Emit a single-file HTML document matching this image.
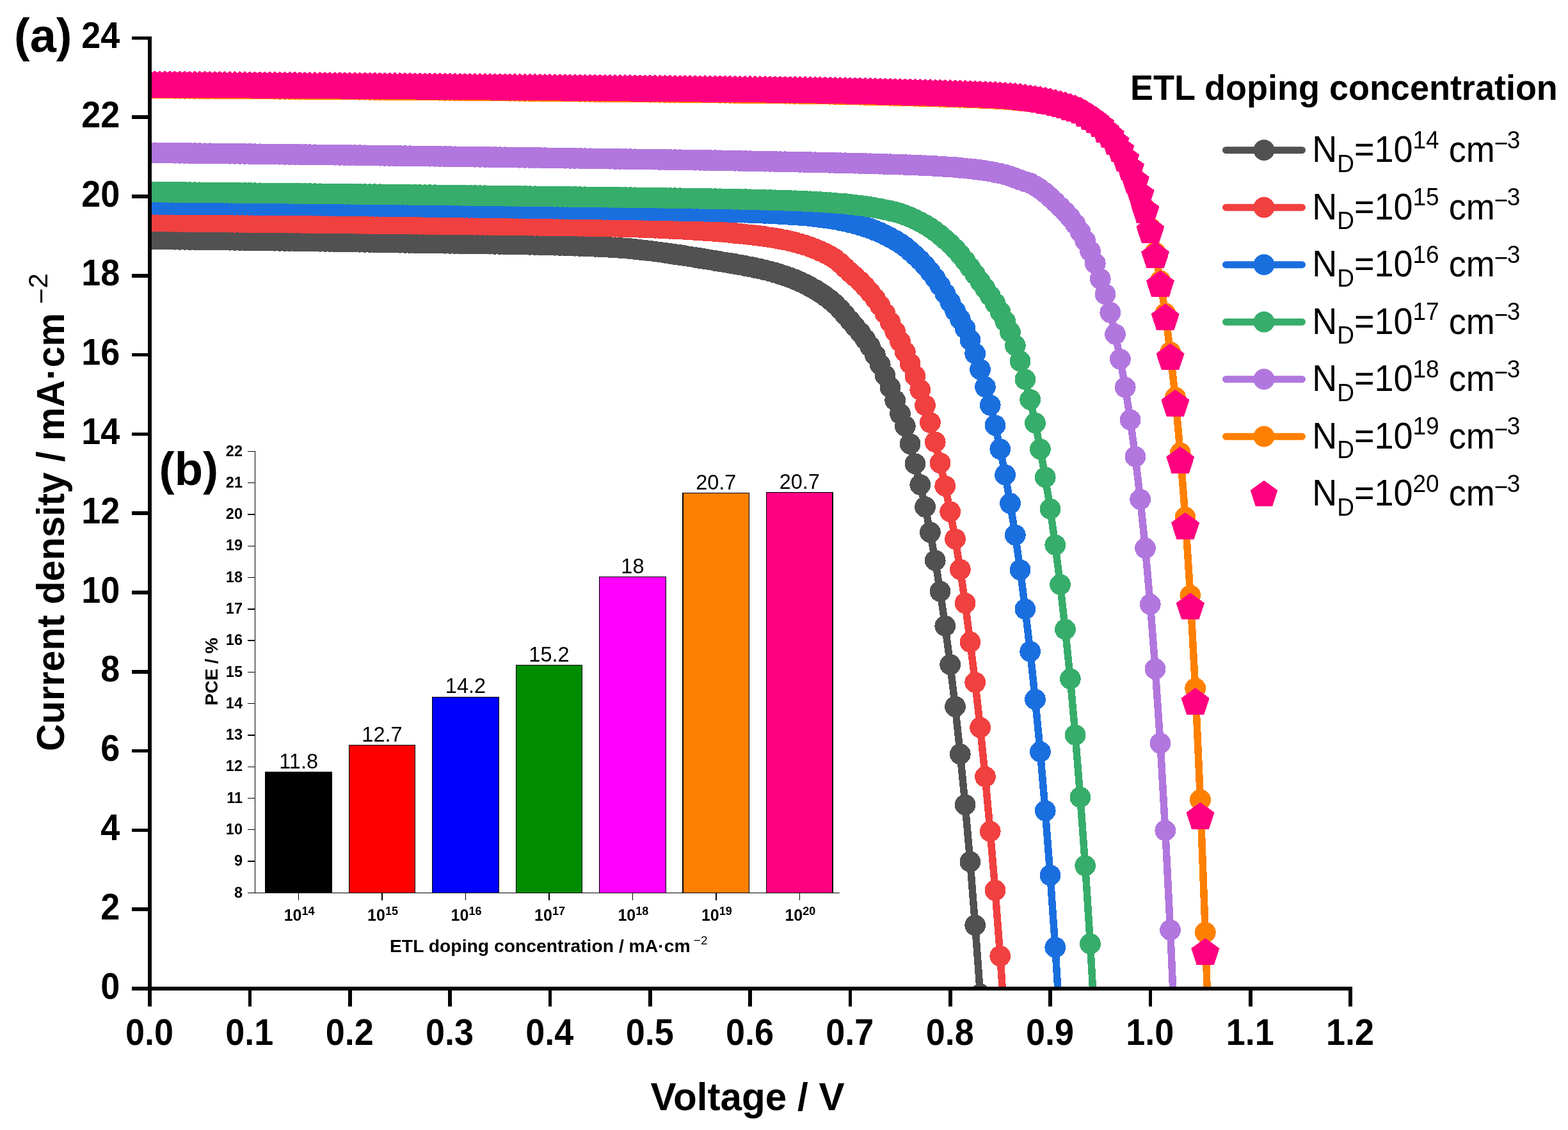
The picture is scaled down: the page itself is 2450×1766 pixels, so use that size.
<!DOCTYPE html>
<html><head><meta charset="utf-8"><title>J-V curves</title>
<style>html,body{margin:0;padding:0;background:#fff;}svg{display:block;}</style>
</head><body>
<svg width="2450" height="1766" viewBox="0 0 2450 1766">
<rect width="2450" height="1766" fill="#fff"/>
<defs><clipPath id="pc"><rect x="234.0" y="40" width="1875.996" height="1505.0"/></clipPath></defs>
<g clip-path="url(#pc)" shape-rendering="crispEdges">
<polyline points="234.0,373.4 241.8,373.7 249.6,373.9 257.4,374.0 265.3,374.1 273.1,374.2 280.9,374.3 288.7,374.3 296.5,374.4 304.3,374.5 312.2,374.6 320.0,374.7 327.8,374.8 335.6,374.9 343.4,375.0 351.2,375.1 359.1,375.2 366.9,375.3 374.7,375.4 382.5,375.5 390.3,375.6 398.1,375.7 406.0,375.8 413.8,375.9 421.6,376.1 429.4,376.2 437.2,376.3 445.0,376.4 452.9,376.5 460.7,376.6 468.5,376.7 476.3,376.8 484.1,377.0 491.9,377.1 499.8,377.2 507.6,377.3 515.4,377.4 523.2,377.6 531.0,377.7 538.8,377.8 546.7,377.9 554.5,378.0 562.3,378.2 570.1,378.3 577.9,378.4 585.7,378.6 593.6,378.7 601.4,378.8 609.2,379.0 617.0,379.1 624.8,379.2 632.6,379.3 640.5,379.4 648.3,379.5 656.1,379.7 663.9,379.8 671.7,379.9 679.5,380.0 687.4,380.1 695.2,380.2 703.0,380.3 710.8,380.4 718.6,380.5 726.4,380.6 734.3,380.7 742.1,380.8 749.9,380.9 757.7,381.0 765.5,381.1 773.3,381.3 781.2,381.4 789.0,381.5 796.8,381.7 804.6,381.8 812.4,382.0 820.2,382.1 828.1,382.3 835.9,382.4 843.7,382.6 851.5,382.8 859.3,383.0 867.1,383.2 875.0,383.4 882.8,383.7 890.6,383.9 898.4,384.2 906.2,384.4 914.0,384.7 921.9,385.0 929.7,385.3 937.5,385.7 945.3,386.0 953.1,386.4 960.9,386.8 968.8,387.4 976.6,388.0 984.4,388.7 992.2,389.5 1000.0,390.3 1007.8,391.2 1015.7,392.1 1023.5,393.1 1031.3,394.1 1039.1,395.2 1046.9,396.3 1054.7,397.5 1062.6,398.6 1070.4,399.8 1078.2,401.1 1086.0,402.3 1093.8,403.5 1101.6,404.8 1109.5,406.1 1117.3,407.4 1125.1,408.7 1132.9,410.0 1140.7,411.3 1148.5,412.6 1156.4,414.0 1164.2,415.4 1172.0,416.9 1179.8,418.5 1187.6,420.2 1195.4,422.1 1203.3,424.1 1211.1,426.2 1218.9,428.6 1226.7,431.2 1234.5,433.9 1242.3,437.0 1250.2,440.4 1258.0,444.0 1265.8,448.1 1273.6,452.5 1281.4,457.4 1289.2,462.7 1297.1,468.6 1304.9,475.3 1312.7,483.3 1320.5,492.2 1328.3,501.2 1336.1,510.3 1344.0,519.7 1351.8,529.9 1359.6,541.5 1367.4,554.8 1375.2,569.9 1383.0,586.8 1390.9,605.4 1398.7,625.7 1406.5,646.6 1414.3,666.0 1422.1,693.9 1429.9,724.8 1437.8,757.6 1445.6,792.3 1453.4,831.9 1461.2,875.9 1469.0,924.1 1476.8,978.3 1484.7,1038.7 1492.5,1104.3 1500.3,1178.6 1508.1,1257.8 1515.9,1346.9 1523.7,1446.0 1531.6,1553.8 1539.4,1672.9 1547.2,1804.4" fill="none" stroke="#515151" stroke-width="11.5" stroke-linejoin="round"/>
<g fill="#515151"><circle cx="234.0" cy="373.4" r="16.4"/><circle cx="241.8" cy="373.7" r="16.4"/><circle cx="249.6" cy="373.9" r="16.4"/><circle cx="257.4" cy="374.0" r="16.4"/><circle cx="265.3" cy="374.1" r="16.4"/><circle cx="273.1" cy="374.2" r="16.4"/><circle cx="280.9" cy="374.3" r="16.4"/><circle cx="288.7" cy="374.3" r="16.4"/><circle cx="296.5" cy="374.4" r="16.4"/><circle cx="304.3" cy="374.5" r="16.4"/><circle cx="312.2" cy="374.6" r="16.4"/><circle cx="320.0" cy="374.7" r="16.4"/><circle cx="327.8" cy="374.8" r="16.4"/><circle cx="335.6" cy="374.9" r="16.4"/><circle cx="343.4" cy="375.0" r="16.4"/><circle cx="351.2" cy="375.1" r="16.4"/><circle cx="359.1" cy="375.2" r="16.4"/><circle cx="366.9" cy="375.3" r="16.4"/><circle cx="374.7" cy="375.4" r="16.4"/><circle cx="382.5" cy="375.5" r="16.4"/><circle cx="390.3" cy="375.6" r="16.4"/><circle cx="398.1" cy="375.7" r="16.4"/><circle cx="406.0" cy="375.8" r="16.4"/><circle cx="413.8" cy="375.9" r="16.4"/><circle cx="421.6" cy="376.1" r="16.4"/><circle cx="429.4" cy="376.2" r="16.4"/><circle cx="437.2" cy="376.3" r="16.4"/><circle cx="445.0" cy="376.4" r="16.4"/><circle cx="452.9" cy="376.5" r="16.4"/><circle cx="460.7" cy="376.6" r="16.4"/><circle cx="468.5" cy="376.7" r="16.4"/><circle cx="476.3" cy="376.8" r="16.4"/><circle cx="484.1" cy="377.0" r="16.4"/><circle cx="491.9" cy="377.1" r="16.4"/><circle cx="499.8" cy="377.2" r="16.4"/><circle cx="507.6" cy="377.3" r="16.4"/><circle cx="515.4" cy="377.4" r="16.4"/><circle cx="523.2" cy="377.6" r="16.4"/><circle cx="531.0" cy="377.7" r="16.4"/><circle cx="538.8" cy="377.8" r="16.4"/><circle cx="546.7" cy="377.9" r="16.4"/><circle cx="554.5" cy="378.0" r="16.4"/><circle cx="562.3" cy="378.2" r="16.4"/><circle cx="570.1" cy="378.3" r="16.4"/><circle cx="577.9" cy="378.4" r="16.4"/><circle cx="585.7" cy="378.6" r="16.4"/><circle cx="593.6" cy="378.7" r="16.4"/><circle cx="601.4" cy="378.8" r="16.4"/><circle cx="609.2" cy="379.0" r="16.4"/><circle cx="617.0" cy="379.1" r="16.4"/><circle cx="624.8" cy="379.2" r="16.4"/><circle cx="632.6" cy="379.3" r="16.4"/><circle cx="640.5" cy="379.4" r="16.4"/><circle cx="648.3" cy="379.5" r="16.4"/><circle cx="656.1" cy="379.7" r="16.4"/><circle cx="663.9" cy="379.8" r="16.4"/><circle cx="671.7" cy="379.9" r="16.4"/><circle cx="679.5" cy="380.0" r="16.4"/><circle cx="687.4" cy="380.1" r="16.4"/><circle cx="695.2" cy="380.2" r="16.4"/><circle cx="703.0" cy="380.3" r="16.4"/><circle cx="710.8" cy="380.4" r="16.4"/><circle cx="718.6" cy="380.5" r="16.4"/><circle cx="726.4" cy="380.6" r="16.4"/><circle cx="734.3" cy="380.7" r="16.4"/><circle cx="742.1" cy="380.8" r="16.4"/><circle cx="749.9" cy="380.9" r="16.4"/><circle cx="757.7" cy="381.0" r="16.4"/><circle cx="765.5" cy="381.1" r="16.4"/><circle cx="773.3" cy="381.3" r="16.4"/><circle cx="781.2" cy="381.4" r="16.4"/><circle cx="789.0" cy="381.5" r="16.4"/><circle cx="796.8" cy="381.7" r="16.4"/><circle cx="804.6" cy="381.8" r="16.4"/><circle cx="812.4" cy="382.0" r="16.4"/><circle cx="820.2" cy="382.1" r="16.4"/><circle cx="828.1" cy="382.3" r="16.4"/><circle cx="835.9" cy="382.4" r="16.4"/><circle cx="843.7" cy="382.6" r="16.4"/><circle cx="851.5" cy="382.8" r="16.4"/><circle cx="859.3" cy="383.0" r="16.4"/><circle cx="867.1" cy="383.2" r="16.4"/><circle cx="875.0" cy="383.4" r="16.4"/><circle cx="882.8" cy="383.7" r="16.4"/><circle cx="890.6" cy="383.9" r="16.4"/><circle cx="898.4" cy="384.2" r="16.4"/><circle cx="906.2" cy="384.4" r="16.4"/><circle cx="914.0" cy="384.7" r="16.4"/><circle cx="921.9" cy="385.0" r="16.4"/><circle cx="929.7" cy="385.3" r="16.4"/><circle cx="937.5" cy="385.7" r="16.4"/><circle cx="945.3" cy="386.0" r="16.4"/><circle cx="953.1" cy="386.4" r="16.4"/><circle cx="960.9" cy="386.8" r="16.4"/><circle cx="968.8" cy="387.4" r="16.4"/><circle cx="976.6" cy="388.0" r="16.4"/><circle cx="984.4" cy="388.7" r="16.4"/><circle cx="992.2" cy="389.5" r="16.4"/><circle cx="1000.0" cy="390.3" r="16.4"/><circle cx="1007.8" cy="391.2" r="16.4"/><circle cx="1015.7" cy="392.1" r="16.4"/><circle cx="1023.5" cy="393.1" r="16.4"/><circle cx="1031.3" cy="394.1" r="16.4"/><circle cx="1039.1" cy="395.2" r="16.4"/><circle cx="1046.9" cy="396.3" r="16.4"/><circle cx="1054.7" cy="397.5" r="16.4"/><circle cx="1062.6" cy="398.6" r="16.4"/><circle cx="1070.4" cy="399.8" r="16.4"/><circle cx="1078.2" cy="401.1" r="16.4"/><circle cx="1086.0" cy="402.3" r="16.4"/><circle cx="1093.8" cy="403.5" r="16.4"/><circle cx="1101.6" cy="404.8" r="16.4"/><circle cx="1109.5" cy="406.1" r="16.4"/><circle cx="1117.3" cy="407.4" r="16.4"/><circle cx="1125.1" cy="408.7" r="16.4"/><circle cx="1132.9" cy="410.0" r="16.4"/><circle cx="1140.7" cy="411.3" r="16.4"/><circle cx="1148.5" cy="412.6" r="16.4"/><circle cx="1156.4" cy="414.0" r="16.4"/><circle cx="1164.2" cy="415.4" r="16.4"/><circle cx="1172.0" cy="416.9" r="16.4"/><circle cx="1179.8" cy="418.5" r="16.4"/><circle cx="1187.6" cy="420.2" r="16.4"/><circle cx="1195.4" cy="422.1" r="16.4"/><circle cx="1203.3" cy="424.1" r="16.4"/><circle cx="1211.1" cy="426.2" r="16.4"/><circle cx="1218.9" cy="428.6" r="16.4"/><circle cx="1226.7" cy="431.2" r="16.4"/><circle cx="1234.5" cy="433.9" r="16.4"/><circle cx="1242.3" cy="437.0" r="16.4"/><circle cx="1250.2" cy="440.4" r="16.4"/><circle cx="1258.0" cy="444.0" r="16.4"/><circle cx="1265.8" cy="448.1" r="16.4"/><circle cx="1273.6" cy="452.5" r="16.4"/><circle cx="1281.4" cy="457.4" r="16.4"/><circle cx="1289.2" cy="462.7" r="16.4"/><circle cx="1297.1" cy="468.6" r="16.4"/><circle cx="1304.9" cy="475.3" r="16.4"/><circle cx="1312.7" cy="483.3" r="16.4"/><circle cx="1320.5" cy="492.2" r="16.4"/><circle cx="1328.3" cy="501.2" r="16.4"/><circle cx="1336.1" cy="510.3" r="16.4"/><circle cx="1344.0" cy="519.7" r="16.4"/><circle cx="1351.8" cy="529.9" r="16.4"/><circle cx="1359.6" cy="541.5" r="16.4"/><circle cx="1367.4" cy="554.8" r="16.4"/><circle cx="1375.2" cy="569.9" r="16.4"/><circle cx="1383.0" cy="586.8" r="16.4"/><circle cx="1390.9" cy="605.4" r="16.4"/><circle cx="1398.7" cy="625.7" r="16.4"/><circle cx="1406.5" cy="646.6" r="16.4"/><circle cx="1414.3" cy="666.0" r="16.4"/><circle cx="1422.1" cy="693.9" r="16.4"/><circle cx="1429.9" cy="724.8" r="16.4"/><circle cx="1437.8" cy="757.6" r="16.4"/><circle cx="1445.6" cy="792.3" r="16.4"/><circle cx="1453.4" cy="831.9" r="16.4"/><circle cx="1461.2" cy="875.9" r="16.4"/><circle cx="1469.0" cy="924.1" r="16.4"/><circle cx="1476.8" cy="978.3" r="16.4"/><circle cx="1484.7" cy="1038.7" r="16.4"/><circle cx="1492.5" cy="1104.3" r="16.4"/><circle cx="1500.3" cy="1178.6" r="16.4"/><circle cx="1508.1" cy="1257.8" r="16.4"/><circle cx="1515.9" cy="1346.9" r="16.4"/><circle cx="1523.7" cy="1446.0" r="16.4"/><circle cx="1531.6" cy="1553.8" r="16.4"/><circle cx="1539.4" cy="1672.9" r="16.4"/><circle cx="1547.2" cy="1804.4" r="16.4"/></g>
<polyline points="234.0,345.9 241.8,345.9 249.6,346.0 257.4,346.1 265.3,346.2 273.1,346.3 280.9,346.4 288.7,346.4 296.5,346.5 304.3,346.6 312.2,346.7 320.0,346.8 327.8,346.9 335.6,346.9 343.4,347.0 351.2,347.1 359.1,347.2 366.9,347.3 374.7,347.3 382.5,347.4 390.3,347.5 398.1,347.6 406.0,347.7 413.8,347.8 421.6,347.8 429.4,347.9 437.2,348.0 445.0,348.1 452.9,348.2 460.7,348.2 468.5,348.3 476.3,348.4 484.1,348.5 491.9,348.6 499.8,348.7 507.6,348.7 515.4,348.8 523.2,348.9 531.0,349.0 538.8,349.1 546.7,349.1 554.5,349.2 562.3,349.3 570.1,349.4 577.9,349.5 585.7,349.6 593.6,349.6 601.4,349.7 609.2,349.8 617.0,349.9 624.8,350.0 632.6,350.1 640.5,350.1 648.3,350.2 656.1,350.3 663.9,350.4 671.7,350.5 679.5,350.5 687.4,350.6 695.2,350.7 703.0,350.8 710.8,350.9 718.6,350.9 726.4,351.0 734.3,351.1 742.1,351.2 749.9,351.3 757.7,351.4 765.5,351.4 773.3,351.5 781.2,351.6 789.0,351.7 796.8,351.8 804.6,351.9 812.4,352.0 820.2,352.1 828.1,352.2 835.9,352.3 843.7,352.4 851.5,352.5 859.3,352.6 867.1,352.7 875.0,352.8 882.8,352.9 890.6,353.0 898.4,353.1 906.2,353.3 914.0,353.4 921.9,353.5 929.7,353.7 937.5,353.8 945.3,353.9 953.1,354.1 960.9,354.3 968.8,354.5 976.6,354.7 984.4,354.9 992.2,355.1 1000.0,355.4 1007.8,355.7 1015.7,356.0 1023.5,356.3 1031.3,356.6 1039.1,356.9 1046.9,357.3 1054.7,357.7 1062.6,358.1 1070.4,358.5 1078.2,358.9 1086.0,359.4 1093.8,359.9 1101.6,360.4 1109.5,361.0 1117.3,361.6 1125.1,362.2 1132.9,362.9 1140.7,363.6 1148.5,364.4 1156.4,365.2 1164.2,366.1 1172.0,366.9 1179.8,367.8 1187.6,368.8 1195.4,369.8 1203.3,371.0 1211.1,372.2 1218.9,373.6 1226.7,375.1 1234.5,376.8 1242.3,378.7 1250.2,380.9 1258.0,383.2 1265.8,385.9 1273.6,388.9 1281.4,392.2 1289.2,395.9 1297.1,400.0 1304.9,404.9 1312.7,411.3 1320.5,418.5 1328.3,425.6 1336.1,432.4 1344.0,439.8 1351.8,447.8 1359.6,456.7 1367.4,466.5 1375.2,477.5 1383.0,489.9 1390.9,503.5 1398.7,518.1 1406.5,533.7 1414.3,550.2 1422.1,568.1 1429.9,587.7 1437.8,609.3 1445.6,633.5 1453.4,660.4 1461.2,690.8 1469.0,723.6 1476.8,759.5 1484.7,799.7 1492.5,842.4 1500.3,890.1 1508.1,942.7 1515.9,1003.4 1523.7,1066.5 1531.6,1137.1 1539.4,1213.8 1547.2,1299.3 1555.0,1391.5 1562.8,1494.2 1570.6,1606.9 1578.5,1730.8" fill="none" stroke="#F14040" stroke-width="11.5" stroke-linejoin="round"/>
<g fill="#F14040"><circle cx="234.0" cy="345.9" r="16.4"/><circle cx="241.8" cy="345.9" r="16.4"/><circle cx="249.6" cy="346.0" r="16.4"/><circle cx="257.4" cy="346.1" r="16.4"/><circle cx="265.3" cy="346.2" r="16.4"/><circle cx="273.1" cy="346.3" r="16.4"/><circle cx="280.9" cy="346.4" r="16.4"/><circle cx="288.7" cy="346.4" r="16.4"/><circle cx="296.5" cy="346.5" r="16.4"/><circle cx="304.3" cy="346.6" r="16.4"/><circle cx="312.2" cy="346.7" r="16.4"/><circle cx="320.0" cy="346.8" r="16.4"/><circle cx="327.8" cy="346.9" r="16.4"/><circle cx="335.6" cy="346.9" r="16.4"/><circle cx="343.4" cy="347.0" r="16.4"/><circle cx="351.2" cy="347.1" r="16.4"/><circle cx="359.1" cy="347.2" r="16.4"/><circle cx="366.9" cy="347.3" r="16.4"/><circle cx="374.7" cy="347.3" r="16.4"/><circle cx="382.5" cy="347.4" r="16.4"/><circle cx="390.3" cy="347.5" r="16.4"/><circle cx="398.1" cy="347.6" r="16.4"/><circle cx="406.0" cy="347.7" r="16.4"/><circle cx="413.8" cy="347.8" r="16.4"/><circle cx="421.6" cy="347.8" r="16.4"/><circle cx="429.4" cy="347.9" r="16.4"/><circle cx="437.2" cy="348.0" r="16.4"/><circle cx="445.0" cy="348.1" r="16.4"/><circle cx="452.9" cy="348.2" r="16.4"/><circle cx="460.7" cy="348.2" r="16.4"/><circle cx="468.5" cy="348.3" r="16.4"/><circle cx="476.3" cy="348.4" r="16.4"/><circle cx="484.1" cy="348.5" r="16.4"/><circle cx="491.9" cy="348.6" r="16.4"/><circle cx="499.8" cy="348.7" r="16.4"/><circle cx="507.6" cy="348.7" r="16.4"/><circle cx="515.4" cy="348.8" r="16.4"/><circle cx="523.2" cy="348.9" r="16.4"/><circle cx="531.0" cy="349.0" r="16.4"/><circle cx="538.8" cy="349.1" r="16.4"/><circle cx="546.7" cy="349.1" r="16.4"/><circle cx="554.5" cy="349.2" r="16.4"/><circle cx="562.3" cy="349.3" r="16.4"/><circle cx="570.1" cy="349.4" r="16.4"/><circle cx="577.9" cy="349.5" r="16.4"/><circle cx="585.7" cy="349.6" r="16.4"/><circle cx="593.6" cy="349.6" r="16.4"/><circle cx="601.4" cy="349.7" r="16.4"/><circle cx="609.2" cy="349.8" r="16.4"/><circle cx="617.0" cy="349.9" r="16.4"/><circle cx="624.8" cy="350.0" r="16.4"/><circle cx="632.6" cy="350.1" r="16.4"/><circle cx="640.5" cy="350.1" r="16.4"/><circle cx="648.3" cy="350.2" r="16.4"/><circle cx="656.1" cy="350.3" r="16.4"/><circle cx="663.9" cy="350.4" r="16.4"/><circle cx="671.7" cy="350.5" r="16.4"/><circle cx="679.5" cy="350.5" r="16.4"/><circle cx="687.4" cy="350.6" r="16.4"/><circle cx="695.2" cy="350.7" r="16.4"/><circle cx="703.0" cy="350.8" r="16.4"/><circle cx="710.8" cy="350.9" r="16.4"/><circle cx="718.6" cy="350.9" r="16.4"/><circle cx="726.4" cy="351.0" r="16.4"/><circle cx="734.3" cy="351.1" r="16.4"/><circle cx="742.1" cy="351.2" r="16.4"/><circle cx="749.9" cy="351.3" r="16.4"/><circle cx="757.7" cy="351.4" r="16.4"/><circle cx="765.5" cy="351.4" r="16.4"/><circle cx="773.3" cy="351.5" r="16.4"/><circle cx="781.2" cy="351.6" r="16.4"/><circle cx="789.0" cy="351.7" r="16.4"/><circle cx="796.8" cy="351.8" r="16.4"/><circle cx="804.6" cy="351.9" r="16.4"/><circle cx="812.4" cy="352.0" r="16.4"/><circle cx="820.2" cy="352.1" r="16.4"/><circle cx="828.1" cy="352.2" r="16.4"/><circle cx="835.9" cy="352.3" r="16.4"/><circle cx="843.7" cy="352.4" r="16.4"/><circle cx="851.5" cy="352.5" r="16.4"/><circle cx="859.3" cy="352.6" r="16.4"/><circle cx="867.1" cy="352.7" r="16.4"/><circle cx="875.0" cy="352.8" r="16.4"/><circle cx="882.8" cy="352.9" r="16.4"/><circle cx="890.6" cy="353.0" r="16.4"/><circle cx="898.4" cy="353.1" r="16.4"/><circle cx="906.2" cy="353.3" r="16.4"/><circle cx="914.0" cy="353.4" r="16.4"/><circle cx="921.9" cy="353.5" r="16.4"/><circle cx="929.7" cy="353.7" r="16.4"/><circle cx="937.5" cy="353.8" r="16.4"/><circle cx="945.3" cy="353.9" r="16.4"/><circle cx="953.1" cy="354.1" r="16.4"/><circle cx="960.9" cy="354.3" r="16.4"/><circle cx="968.8" cy="354.5" r="16.4"/><circle cx="976.6" cy="354.7" r="16.4"/><circle cx="984.4" cy="354.9" r="16.4"/><circle cx="992.2" cy="355.1" r="16.4"/><circle cx="1000.0" cy="355.4" r="16.4"/><circle cx="1007.8" cy="355.7" r="16.4"/><circle cx="1015.7" cy="356.0" r="16.4"/><circle cx="1023.5" cy="356.3" r="16.4"/><circle cx="1031.3" cy="356.6" r="16.4"/><circle cx="1039.1" cy="356.9" r="16.4"/><circle cx="1046.9" cy="357.3" r="16.4"/><circle cx="1054.7" cy="357.7" r="16.4"/><circle cx="1062.6" cy="358.1" r="16.4"/><circle cx="1070.4" cy="358.5" r="16.4"/><circle cx="1078.2" cy="358.9" r="16.4"/><circle cx="1086.0" cy="359.4" r="16.4"/><circle cx="1093.8" cy="359.9" r="16.4"/><circle cx="1101.6" cy="360.4" r="16.4"/><circle cx="1109.5" cy="361.0" r="16.4"/><circle cx="1117.3" cy="361.6" r="16.4"/><circle cx="1125.1" cy="362.2" r="16.4"/><circle cx="1132.9" cy="362.9" r="16.4"/><circle cx="1140.7" cy="363.6" r="16.4"/><circle cx="1148.5" cy="364.4" r="16.4"/><circle cx="1156.4" cy="365.2" r="16.4"/><circle cx="1164.2" cy="366.1" r="16.4"/><circle cx="1172.0" cy="366.9" r="16.4"/><circle cx="1179.8" cy="367.8" r="16.4"/><circle cx="1187.6" cy="368.8" r="16.4"/><circle cx="1195.4" cy="369.8" r="16.4"/><circle cx="1203.3" cy="371.0" r="16.4"/><circle cx="1211.1" cy="372.2" r="16.4"/><circle cx="1218.9" cy="373.6" r="16.4"/><circle cx="1226.7" cy="375.1" r="16.4"/><circle cx="1234.5" cy="376.8" r="16.4"/><circle cx="1242.3" cy="378.7" r="16.4"/><circle cx="1250.2" cy="380.9" r="16.4"/><circle cx="1258.0" cy="383.2" r="16.4"/><circle cx="1265.8" cy="385.9" r="16.4"/><circle cx="1273.6" cy="388.9" r="16.4"/><circle cx="1281.4" cy="392.2" r="16.4"/><circle cx="1289.2" cy="395.9" r="16.4"/><circle cx="1297.1" cy="400.0" r="16.4"/><circle cx="1304.9" cy="404.9" r="16.4"/><circle cx="1312.7" cy="411.3" r="16.4"/><circle cx="1320.5" cy="418.5" r="16.4"/><circle cx="1328.3" cy="425.6" r="16.4"/><circle cx="1336.1" cy="432.4" r="16.4"/><circle cx="1344.0" cy="439.8" r="16.4"/><circle cx="1351.8" cy="447.8" r="16.4"/><circle cx="1359.6" cy="456.7" r="16.4"/><circle cx="1367.4" cy="466.5" r="16.4"/><circle cx="1375.2" cy="477.5" r="16.4"/><circle cx="1383.0" cy="489.9" r="16.4"/><circle cx="1390.9" cy="503.5" r="16.4"/><circle cx="1398.7" cy="518.1" r="16.4"/><circle cx="1406.5" cy="533.7" r="16.4"/><circle cx="1414.3" cy="550.2" r="16.4"/><circle cx="1422.1" cy="568.1" r="16.4"/><circle cx="1429.9" cy="587.7" r="16.4"/><circle cx="1437.8" cy="609.3" r="16.4"/><circle cx="1445.6" cy="633.5" r="16.4"/><circle cx="1453.4" cy="660.4" r="16.4"/><circle cx="1461.2" cy="690.8" r="16.4"/><circle cx="1469.0" cy="723.6" r="16.4"/><circle cx="1476.8" cy="759.5" r="16.4"/><circle cx="1484.7" cy="799.7" r="16.4"/><circle cx="1492.5" cy="842.4" r="16.4"/><circle cx="1500.3" cy="890.1" r="16.4"/><circle cx="1508.1" cy="942.7" r="16.4"/><circle cx="1515.9" cy="1003.4" r="16.4"/><circle cx="1523.7" cy="1066.5" r="16.4"/><circle cx="1531.6" cy="1137.1" r="16.4"/><circle cx="1539.4" cy="1213.8" r="16.4"/><circle cx="1547.2" cy="1299.3" r="16.4"/><circle cx="1555.0" cy="1391.5" r="16.4"/><circle cx="1562.8" cy="1494.2" r="16.4"/><circle cx="1570.6" cy="1606.9" r="16.4"/><circle cx="1578.5" cy="1730.8" r="16.4"/></g>
<polyline points="234.0,319.2 241.8,319.3 249.6,319.4 257.4,319.5 265.3,319.5 273.1,319.5 280.9,319.6 288.7,319.6 296.5,319.7 304.3,319.7 312.2,319.8 320.0,319.8 327.8,319.9 335.6,320.0 343.4,320.0 351.2,320.1 359.1,320.1 366.9,320.2 374.7,320.2 382.5,320.3 390.3,320.3 398.1,320.4 406.0,320.5 413.8,320.5 421.6,320.6 429.4,320.6 437.2,320.7 445.0,320.8 452.9,320.8 460.7,320.9 468.5,321.0 476.3,321.1 484.1,321.1 491.9,321.2 499.8,321.3 507.6,321.4 515.4,321.5 523.2,321.5 531.0,321.6 538.8,321.7 546.7,321.8 554.5,321.9 562.3,322.0 570.1,322.1 577.9,322.2 585.7,322.3 593.6,322.4 601.4,322.5 609.2,322.6 617.0,322.7 624.8,322.8 632.6,322.9 640.5,323.0 648.3,323.1 656.1,323.2 663.9,323.4 671.7,323.5 679.5,323.6 687.4,323.7 695.2,323.8 703.0,323.9 710.8,324.0 718.6,324.1 726.4,324.2 734.3,324.3 742.1,324.4 749.9,324.5 757.7,324.7 765.5,324.8 773.3,324.9 781.2,325.0 789.0,325.1 796.8,325.2 804.6,325.3 812.4,325.4 820.2,325.5 828.1,325.6 835.9,325.8 843.7,325.9 851.5,326.0 859.3,326.1 867.1,326.2 875.0,326.3 882.8,326.4 890.6,326.5 898.4,326.7 906.2,326.8 914.0,326.9 921.9,327.0 929.7,327.1 937.5,327.2 945.3,327.4 953.1,327.5 960.9,327.6 968.8,327.7 976.6,327.8 984.4,328.0 992.2,328.1 1000.0,328.2 1007.8,328.4 1015.7,328.5 1023.5,328.7 1031.3,328.8 1039.1,329.0 1046.9,329.1 1054.7,329.3 1062.6,329.4 1070.4,329.6 1078.2,329.8 1086.0,330.0 1093.8,330.1 1101.6,330.3 1109.5,330.5 1117.3,330.8 1125.1,331.0 1132.9,331.2 1140.7,331.5 1148.5,331.7 1156.4,332.0 1164.2,332.2 1172.0,332.5 1179.8,332.8 1187.6,333.1 1195.4,333.4 1203.3,333.7 1211.1,334.1 1218.9,334.5 1226.7,334.9 1234.5,335.4 1242.3,335.9 1250.2,336.5 1258.0,337.1 1265.8,337.9 1273.6,338.7 1281.4,339.6 1289.2,340.7 1297.1,341.8 1304.9,343.1 1312.7,344.5 1320.5,346.2 1328.3,347.9 1336.1,349.9 1344.0,352.1 1351.8,354.5 1359.6,357.2 1367.4,360.2 1375.2,363.5 1383.0,367.1 1390.9,371.1 1398.7,375.5 1406.5,380.4 1414.3,386.0 1422.1,392.3 1429.9,399.2 1437.8,406.8 1445.6,415.2 1453.4,424.5 1461.2,434.9 1469.0,446.3 1476.8,458.7 1484.7,472.0 1492.5,485.7 1500.3,498.8 1508.1,513.2 1515.9,531.1 1523.7,552.7 1531.6,577.5 1539.4,604.7 1547.2,633.2 1555.0,664.8 1562.8,701.9 1570.6,742.2 1578.5,786.7 1586.3,836.2 1594.1,890.7 1601.9,952.0 1609.7,1018.2 1617.5,1093.1 1625.4,1174.8 1633.2,1267.1 1641.0,1368.0 1648.8,1480.6 1656.6,1605.4 1664.4,1743.7" fill="none" stroke="#1A6FDF" stroke-width="11.5" stroke-linejoin="round"/>
<g fill="#1A6FDF"><circle cx="234.0" cy="319.2" r="16.4"/><circle cx="241.8" cy="319.3" r="16.4"/><circle cx="249.6" cy="319.4" r="16.4"/><circle cx="257.4" cy="319.5" r="16.4"/><circle cx="265.3" cy="319.5" r="16.4"/><circle cx="273.1" cy="319.5" r="16.4"/><circle cx="280.9" cy="319.6" r="16.4"/><circle cx="288.7" cy="319.6" r="16.4"/><circle cx="296.5" cy="319.7" r="16.4"/><circle cx="304.3" cy="319.7" r="16.4"/><circle cx="312.2" cy="319.8" r="16.4"/><circle cx="320.0" cy="319.8" r="16.4"/><circle cx="327.8" cy="319.9" r="16.4"/><circle cx="335.6" cy="320.0" r="16.4"/><circle cx="343.4" cy="320.0" r="16.4"/><circle cx="351.2" cy="320.1" r="16.4"/><circle cx="359.1" cy="320.1" r="16.4"/><circle cx="366.9" cy="320.2" r="16.4"/><circle cx="374.7" cy="320.2" r="16.4"/><circle cx="382.5" cy="320.3" r="16.4"/><circle cx="390.3" cy="320.3" r="16.4"/><circle cx="398.1" cy="320.4" r="16.4"/><circle cx="406.0" cy="320.5" r="16.4"/><circle cx="413.8" cy="320.5" r="16.4"/><circle cx="421.6" cy="320.6" r="16.4"/><circle cx="429.4" cy="320.6" r="16.4"/><circle cx="437.2" cy="320.7" r="16.4"/><circle cx="445.0" cy="320.8" r="16.4"/><circle cx="452.9" cy="320.8" r="16.4"/><circle cx="460.7" cy="320.9" r="16.4"/><circle cx="468.5" cy="321.0" r="16.4"/><circle cx="476.3" cy="321.1" r="16.4"/><circle cx="484.1" cy="321.1" r="16.4"/><circle cx="491.9" cy="321.2" r="16.4"/><circle cx="499.8" cy="321.3" r="16.4"/><circle cx="507.6" cy="321.4" r="16.4"/><circle cx="515.4" cy="321.5" r="16.4"/><circle cx="523.2" cy="321.5" r="16.4"/><circle cx="531.0" cy="321.6" r="16.4"/><circle cx="538.8" cy="321.7" r="16.4"/><circle cx="546.7" cy="321.8" r="16.4"/><circle cx="554.5" cy="321.9" r="16.4"/><circle cx="562.3" cy="322.0" r="16.4"/><circle cx="570.1" cy="322.1" r="16.4"/><circle cx="577.9" cy="322.2" r="16.4"/><circle cx="585.7" cy="322.3" r="16.4"/><circle cx="593.6" cy="322.4" r="16.4"/><circle cx="601.4" cy="322.5" r="16.4"/><circle cx="609.2" cy="322.6" r="16.4"/><circle cx="617.0" cy="322.7" r="16.4"/><circle cx="624.8" cy="322.8" r="16.4"/><circle cx="632.6" cy="322.9" r="16.4"/><circle cx="640.5" cy="323.0" r="16.4"/><circle cx="648.3" cy="323.1" r="16.4"/><circle cx="656.1" cy="323.2" r="16.4"/><circle cx="663.9" cy="323.4" r="16.4"/><circle cx="671.7" cy="323.5" r="16.4"/><circle cx="679.5" cy="323.6" r="16.4"/><circle cx="687.4" cy="323.7" r="16.4"/><circle cx="695.2" cy="323.8" r="16.4"/><circle cx="703.0" cy="323.9" r="16.4"/><circle cx="710.8" cy="324.0" r="16.4"/><circle cx="718.6" cy="324.1" r="16.4"/><circle cx="726.4" cy="324.2" r="16.4"/><circle cx="734.3" cy="324.3" r="16.4"/><circle cx="742.1" cy="324.4" r="16.4"/><circle cx="749.9" cy="324.5" r="16.4"/><circle cx="757.7" cy="324.7" r="16.4"/><circle cx="765.5" cy="324.8" r="16.4"/><circle cx="773.3" cy="324.9" r="16.4"/><circle cx="781.2" cy="325.0" r="16.4"/><circle cx="789.0" cy="325.1" r="16.4"/><circle cx="796.8" cy="325.2" r="16.4"/><circle cx="804.6" cy="325.3" r="16.4"/><circle cx="812.4" cy="325.4" r="16.4"/><circle cx="820.2" cy="325.5" r="16.4"/><circle cx="828.1" cy="325.6" r="16.4"/><circle cx="835.9" cy="325.8" r="16.4"/><circle cx="843.7" cy="325.9" r="16.4"/><circle cx="851.5" cy="326.0" r="16.4"/><circle cx="859.3" cy="326.1" r="16.4"/><circle cx="867.1" cy="326.2" r="16.4"/><circle cx="875.0" cy="326.3" r="16.4"/><circle cx="882.8" cy="326.4" r="16.4"/><circle cx="890.6" cy="326.5" r="16.4"/><circle cx="898.4" cy="326.7" r="16.4"/><circle cx="906.2" cy="326.8" r="16.4"/><circle cx="914.0" cy="326.9" r="16.4"/><circle cx="921.9" cy="327.0" r="16.4"/><circle cx="929.7" cy="327.1" r="16.4"/><circle cx="937.5" cy="327.2" r="16.4"/><circle cx="945.3" cy="327.4" r="16.4"/><circle cx="953.1" cy="327.5" r="16.4"/><circle cx="960.9" cy="327.6" r="16.4"/><circle cx="968.8" cy="327.7" r="16.4"/><circle cx="976.6" cy="327.8" r="16.4"/><circle cx="984.4" cy="328.0" r="16.4"/><circle cx="992.2" cy="328.1" r="16.4"/><circle cx="1000.0" cy="328.2" r="16.4"/><circle cx="1007.8" cy="328.4" r="16.4"/><circle cx="1015.7" cy="328.5" r="16.4"/><circle cx="1023.5" cy="328.7" r="16.4"/><circle cx="1031.3" cy="328.8" r="16.4"/><circle cx="1039.1" cy="329.0" r="16.4"/><circle cx="1046.9" cy="329.1" r="16.4"/><circle cx="1054.7" cy="329.3" r="16.4"/><circle cx="1062.6" cy="329.4" r="16.4"/><circle cx="1070.4" cy="329.6" r="16.4"/><circle cx="1078.2" cy="329.8" r="16.4"/><circle cx="1086.0" cy="330.0" r="16.4"/><circle cx="1093.8" cy="330.1" r="16.4"/><circle cx="1101.6" cy="330.3" r="16.4"/><circle cx="1109.5" cy="330.5" r="16.4"/><circle cx="1117.3" cy="330.8" r="16.4"/><circle cx="1125.1" cy="331.0" r="16.4"/><circle cx="1132.9" cy="331.2" r="16.4"/><circle cx="1140.7" cy="331.5" r="16.4"/><circle cx="1148.5" cy="331.7" r="16.4"/><circle cx="1156.4" cy="332.0" r="16.4"/><circle cx="1164.2" cy="332.2" r="16.4"/><circle cx="1172.0" cy="332.5" r="16.4"/><circle cx="1179.8" cy="332.8" r="16.4"/><circle cx="1187.6" cy="333.1" r="16.4"/><circle cx="1195.4" cy="333.4" r="16.4"/><circle cx="1203.3" cy="333.7" r="16.4"/><circle cx="1211.1" cy="334.1" r="16.4"/><circle cx="1218.9" cy="334.5" r="16.4"/><circle cx="1226.7" cy="334.9" r="16.4"/><circle cx="1234.5" cy="335.4" r="16.4"/><circle cx="1242.3" cy="335.9" r="16.4"/><circle cx="1250.2" cy="336.5" r="16.4"/><circle cx="1258.0" cy="337.1" r="16.4"/><circle cx="1265.8" cy="337.9" r="16.4"/><circle cx="1273.6" cy="338.7" r="16.4"/><circle cx="1281.4" cy="339.6" r="16.4"/><circle cx="1289.2" cy="340.7" r="16.4"/><circle cx="1297.1" cy="341.8" r="16.4"/><circle cx="1304.9" cy="343.1" r="16.4"/><circle cx="1312.7" cy="344.5" r="16.4"/><circle cx="1320.5" cy="346.2" r="16.4"/><circle cx="1328.3" cy="347.9" r="16.4"/><circle cx="1336.1" cy="349.9" r="16.4"/><circle cx="1344.0" cy="352.1" r="16.4"/><circle cx="1351.8" cy="354.5" r="16.4"/><circle cx="1359.6" cy="357.2" r="16.4"/><circle cx="1367.4" cy="360.2" r="16.4"/><circle cx="1375.2" cy="363.5" r="16.4"/><circle cx="1383.0" cy="367.1" r="16.4"/><circle cx="1390.9" cy="371.1" r="16.4"/><circle cx="1398.7" cy="375.5" r="16.4"/><circle cx="1406.5" cy="380.4" r="16.4"/><circle cx="1414.3" cy="386.0" r="16.4"/><circle cx="1422.1" cy="392.3" r="16.4"/><circle cx="1429.9" cy="399.2" r="16.4"/><circle cx="1437.8" cy="406.8" r="16.4"/><circle cx="1445.6" cy="415.2" r="16.4"/><circle cx="1453.4" cy="424.5" r="16.4"/><circle cx="1461.2" cy="434.9" r="16.4"/><circle cx="1469.0" cy="446.3" r="16.4"/><circle cx="1476.8" cy="458.7" r="16.4"/><circle cx="1484.7" cy="472.0" r="16.4"/><circle cx="1492.5" cy="485.7" r="16.4"/><circle cx="1500.3" cy="498.8" r="16.4"/><circle cx="1508.1" cy="513.2" r="16.4"/><circle cx="1515.9" cy="531.1" r="16.4"/><circle cx="1523.7" cy="552.7" r="16.4"/><circle cx="1531.6" cy="577.5" r="16.4"/><circle cx="1539.4" cy="604.7" r="16.4"/><circle cx="1547.2" cy="633.2" r="16.4"/><circle cx="1555.0" cy="664.8" r="16.4"/><circle cx="1562.8" cy="701.9" r="16.4"/><circle cx="1570.6" cy="742.2" r="16.4"/><circle cx="1578.5" cy="786.7" r="16.4"/><circle cx="1586.3" cy="836.2" r="16.4"/><circle cx="1594.1" cy="890.7" r="16.4"/><circle cx="1601.9" cy="952.0" r="16.4"/><circle cx="1609.7" cy="1018.2" r="16.4"/><circle cx="1617.5" cy="1093.1" r="16.4"/><circle cx="1625.4" cy="1174.8" r="16.4"/><circle cx="1633.2" cy="1267.1" r="16.4"/><circle cx="1641.0" cy="1368.0" r="16.4"/><circle cx="1648.8" cy="1480.6" r="16.4"/><circle cx="1656.6" cy="1605.4" r="16.4"/><circle cx="1664.4" cy="1743.7" r="16.4"/></g>
<polyline points="234.0,299.9 241.8,300.1 249.6,300.2 257.4,300.3 265.3,300.4 273.1,300.5 280.9,300.5 288.7,300.6 296.5,300.7 304.3,300.8 312.2,300.8 320.0,300.9 327.8,301.0 335.6,301.1 343.4,301.1 351.2,301.2 359.1,301.3 366.9,301.4 374.7,301.5 382.5,301.5 390.3,301.6 398.1,301.7 406.0,301.8 413.8,301.9 421.6,301.9 429.4,302.0 437.2,302.1 445.0,302.2 452.9,302.3 460.7,302.4 468.5,302.4 476.3,302.5 484.1,302.6 491.9,302.7 499.8,302.8 507.6,302.9 515.4,303.0 523.2,303.0 531.0,303.1 538.8,303.2 546.7,303.3 554.5,303.4 562.3,303.5 570.1,303.6 577.9,303.7 585.7,303.7 593.6,303.8 601.4,303.9 609.2,304.0 617.0,304.1 624.8,304.2 632.6,304.3 640.5,304.4 648.3,304.5 656.1,304.6 663.9,304.7 671.7,304.7 679.5,304.8 687.4,304.9 695.2,305.0 703.0,305.1 710.8,305.2 718.6,305.3 726.4,305.4 734.3,305.5 742.1,305.6 749.9,305.7 757.7,305.8 765.5,305.9 773.3,306.0 781.2,306.1 789.0,306.2 796.8,306.3 804.6,306.4 812.4,306.5 820.2,306.6 828.1,306.7 835.9,306.8 843.7,306.9 851.5,307.0 859.3,307.1 867.1,307.2 875.0,307.3 882.8,307.4 890.6,307.5 898.4,307.6 906.2,307.7 914.0,307.8 921.9,307.9 929.7,308.0 937.5,308.1 945.3,308.2 953.1,308.3 960.9,308.4 968.8,308.5 976.6,308.6 984.4,308.7 992.2,308.8 1000.0,308.9 1007.8,309.0 1015.7,309.1 1023.5,309.2 1031.3,309.3 1039.1,309.5 1046.9,309.6 1054.7,309.7 1062.6,309.8 1070.4,309.9 1078.2,310.0 1086.0,310.2 1093.8,310.3 1101.6,310.4 1109.5,310.6 1117.3,310.7 1125.1,310.8 1132.9,311.0 1140.7,311.1 1148.5,311.3 1156.4,311.5 1164.2,311.6 1172.0,311.8 1179.8,312.0 1187.6,312.2 1195.4,312.4 1203.3,312.6 1211.1,312.8 1218.9,313.0 1226.7,313.3 1234.5,313.5 1242.3,313.8 1250.2,314.1 1258.0,314.5 1265.8,314.8 1273.6,315.2 1281.4,315.7 1289.2,316.2 1297.1,316.7 1304.9,317.3 1312.7,317.9 1320.5,318.6 1328.3,319.4 1336.1,320.3 1344.0,321.2 1351.8,322.3 1359.6,323.5 1367.4,324.8 1375.2,326.2 1383.0,327.8 1390.9,329.5 1398.7,331.4 1406.5,333.6 1414.3,336.3 1422.1,339.5 1429.9,343.0 1437.8,346.9 1445.6,351.2 1453.4,356.0 1461.2,361.5 1469.0,367.5 1476.8,374.1 1484.7,381.2 1492.5,389.0 1500.3,397.8 1508.1,407.6 1515.9,418.0 1523.7,428.8 1531.6,440.0 1539.4,451.1 1547.2,462.3 1555.0,474.0 1562.8,487.0 1570.6,501.8 1578.5,519.2 1586.3,539.9 1594.1,564.5 1601.9,593.0 1609.7,624.5 1617.5,661.1 1625.4,701.9 1633.2,745.9 1641.0,795.4 1648.8,851.7 1656.6,913.6 1664.4,983.6 1672.3,1060.9 1680.1,1148.8 1687.9,1246.0 1695.7,1353.1 1703.5,1475.1 1711.3,1610.2 1719.2,1761.1" fill="none" stroke="#37AD6B" stroke-width="11.5" stroke-linejoin="round"/>
<g fill="#37AD6B"><circle cx="234.0" cy="299.9" r="16.4"/><circle cx="241.8" cy="300.1" r="16.4"/><circle cx="249.6" cy="300.2" r="16.4"/><circle cx="257.4" cy="300.3" r="16.4"/><circle cx="265.3" cy="300.4" r="16.4"/><circle cx="273.1" cy="300.5" r="16.4"/><circle cx="280.9" cy="300.5" r="16.4"/><circle cx="288.7" cy="300.6" r="16.4"/><circle cx="296.5" cy="300.7" r="16.4"/><circle cx="304.3" cy="300.8" r="16.4"/><circle cx="312.2" cy="300.8" r="16.4"/><circle cx="320.0" cy="300.9" r="16.4"/><circle cx="327.8" cy="301.0" r="16.4"/><circle cx="335.6" cy="301.1" r="16.4"/><circle cx="343.4" cy="301.1" r="16.4"/><circle cx="351.2" cy="301.2" r="16.4"/><circle cx="359.1" cy="301.3" r="16.4"/><circle cx="366.9" cy="301.4" r="16.4"/><circle cx="374.7" cy="301.5" r="16.4"/><circle cx="382.5" cy="301.5" r="16.4"/><circle cx="390.3" cy="301.6" r="16.4"/><circle cx="398.1" cy="301.7" r="16.4"/><circle cx="406.0" cy="301.8" r="16.4"/><circle cx="413.8" cy="301.9" r="16.4"/><circle cx="421.6" cy="301.9" r="16.4"/><circle cx="429.4" cy="302.0" r="16.4"/><circle cx="437.2" cy="302.1" r="16.4"/><circle cx="445.0" cy="302.2" r="16.4"/><circle cx="452.9" cy="302.3" r="16.4"/><circle cx="460.7" cy="302.4" r="16.4"/><circle cx="468.5" cy="302.4" r="16.4"/><circle cx="476.3" cy="302.5" r="16.4"/><circle cx="484.1" cy="302.6" r="16.4"/><circle cx="491.9" cy="302.7" r="16.4"/><circle cx="499.8" cy="302.8" r="16.4"/><circle cx="507.6" cy="302.9" r="16.4"/><circle cx="515.4" cy="303.0" r="16.4"/><circle cx="523.2" cy="303.0" r="16.4"/><circle cx="531.0" cy="303.1" r="16.4"/><circle cx="538.8" cy="303.2" r="16.4"/><circle cx="546.7" cy="303.3" r="16.4"/><circle cx="554.5" cy="303.4" r="16.4"/><circle cx="562.3" cy="303.5" r="16.4"/><circle cx="570.1" cy="303.6" r="16.4"/><circle cx="577.9" cy="303.7" r="16.4"/><circle cx="585.7" cy="303.7" r="16.4"/><circle cx="593.6" cy="303.8" r="16.4"/><circle cx="601.4" cy="303.9" r="16.4"/><circle cx="609.2" cy="304.0" r="16.4"/><circle cx="617.0" cy="304.1" r="16.4"/><circle cx="624.8" cy="304.2" r="16.4"/><circle cx="632.6" cy="304.3" r="16.4"/><circle cx="640.5" cy="304.4" r="16.4"/><circle cx="648.3" cy="304.5" r="16.4"/><circle cx="656.1" cy="304.6" r="16.4"/><circle cx="663.9" cy="304.7" r="16.4"/><circle cx="671.7" cy="304.7" r="16.4"/><circle cx="679.5" cy="304.8" r="16.4"/><circle cx="687.4" cy="304.9" r="16.4"/><circle cx="695.2" cy="305.0" r="16.4"/><circle cx="703.0" cy="305.1" r="16.4"/><circle cx="710.8" cy="305.2" r="16.4"/><circle cx="718.6" cy="305.3" r="16.4"/><circle cx="726.4" cy="305.4" r="16.4"/><circle cx="734.3" cy="305.5" r="16.4"/><circle cx="742.1" cy="305.6" r="16.4"/><circle cx="749.9" cy="305.7" r="16.4"/><circle cx="757.7" cy="305.8" r="16.4"/><circle cx="765.5" cy="305.9" r="16.4"/><circle cx="773.3" cy="306.0" r="16.4"/><circle cx="781.2" cy="306.1" r="16.4"/><circle cx="789.0" cy="306.2" r="16.4"/><circle cx="796.8" cy="306.3" r="16.4"/><circle cx="804.6" cy="306.4" r="16.4"/><circle cx="812.4" cy="306.5" r="16.4"/><circle cx="820.2" cy="306.6" r="16.4"/><circle cx="828.1" cy="306.7" r="16.4"/><circle cx="835.9" cy="306.8" r="16.4"/><circle cx="843.7" cy="306.9" r="16.4"/><circle cx="851.5" cy="307.0" r="16.4"/><circle cx="859.3" cy="307.1" r="16.4"/><circle cx="867.1" cy="307.2" r="16.4"/><circle cx="875.0" cy="307.3" r="16.4"/><circle cx="882.8" cy="307.4" r="16.4"/><circle cx="890.6" cy="307.5" r="16.4"/><circle cx="898.4" cy="307.6" r="16.4"/><circle cx="906.2" cy="307.7" r="16.4"/><circle cx="914.0" cy="307.8" r="16.4"/><circle cx="921.9" cy="307.9" r="16.4"/><circle cx="929.7" cy="308.0" r="16.4"/><circle cx="937.5" cy="308.1" r="16.4"/><circle cx="945.3" cy="308.2" r="16.4"/><circle cx="953.1" cy="308.3" r="16.4"/><circle cx="960.9" cy="308.4" r="16.4"/><circle cx="968.8" cy="308.5" r="16.4"/><circle cx="976.6" cy="308.6" r="16.4"/><circle cx="984.4" cy="308.7" r="16.4"/><circle cx="992.2" cy="308.8" r="16.4"/><circle cx="1000.0" cy="308.9" r="16.4"/><circle cx="1007.8" cy="309.0" r="16.4"/><circle cx="1015.7" cy="309.1" r="16.4"/><circle cx="1023.5" cy="309.2" r="16.4"/><circle cx="1031.3" cy="309.3" r="16.4"/><circle cx="1039.1" cy="309.5" r="16.4"/><circle cx="1046.9" cy="309.6" r="16.4"/><circle cx="1054.7" cy="309.7" r="16.4"/><circle cx="1062.6" cy="309.8" r="16.4"/><circle cx="1070.4" cy="309.9" r="16.4"/><circle cx="1078.2" cy="310.0" r="16.4"/><circle cx="1086.0" cy="310.2" r="16.4"/><circle cx="1093.8" cy="310.3" r="16.4"/><circle cx="1101.6" cy="310.4" r="16.4"/><circle cx="1109.5" cy="310.6" r="16.4"/><circle cx="1117.3" cy="310.7" r="16.4"/><circle cx="1125.1" cy="310.8" r="16.4"/><circle cx="1132.9" cy="311.0" r="16.4"/><circle cx="1140.7" cy="311.1" r="16.4"/><circle cx="1148.5" cy="311.3" r="16.4"/><circle cx="1156.4" cy="311.5" r="16.4"/><circle cx="1164.2" cy="311.6" r="16.4"/><circle cx="1172.0" cy="311.8" r="16.4"/><circle cx="1179.8" cy="312.0" r="16.4"/><circle cx="1187.6" cy="312.2" r="16.4"/><circle cx="1195.4" cy="312.4" r="16.4"/><circle cx="1203.3" cy="312.6" r="16.4"/><circle cx="1211.1" cy="312.8" r="16.4"/><circle cx="1218.9" cy="313.0" r="16.4"/><circle cx="1226.7" cy="313.3" r="16.4"/><circle cx="1234.5" cy="313.5" r="16.4"/><circle cx="1242.3" cy="313.8" r="16.4"/><circle cx="1250.2" cy="314.1" r="16.4"/><circle cx="1258.0" cy="314.5" r="16.4"/><circle cx="1265.8" cy="314.8" r="16.4"/><circle cx="1273.6" cy="315.2" r="16.4"/><circle cx="1281.4" cy="315.7" r="16.4"/><circle cx="1289.2" cy="316.2" r="16.4"/><circle cx="1297.1" cy="316.7" r="16.4"/><circle cx="1304.9" cy="317.3" r="16.4"/><circle cx="1312.7" cy="317.9" r="16.4"/><circle cx="1320.5" cy="318.6" r="16.4"/><circle cx="1328.3" cy="319.4" r="16.4"/><circle cx="1336.1" cy="320.3" r="16.4"/><circle cx="1344.0" cy="321.2" r="16.4"/><circle cx="1351.8" cy="322.3" r="16.4"/><circle cx="1359.6" cy="323.5" r="16.4"/><circle cx="1367.4" cy="324.8" r="16.4"/><circle cx="1375.2" cy="326.2" r="16.4"/><circle cx="1383.0" cy="327.8" r="16.4"/><circle cx="1390.9" cy="329.5" r="16.4"/><circle cx="1398.7" cy="331.4" r="16.4"/><circle cx="1406.5" cy="333.6" r="16.4"/><circle cx="1414.3" cy="336.3" r="16.4"/><circle cx="1422.1" cy="339.5" r="16.4"/><circle cx="1429.9" cy="343.0" r="16.4"/><circle cx="1437.8" cy="346.9" r="16.4"/><circle cx="1445.6" cy="351.2" r="16.4"/><circle cx="1453.4" cy="356.0" r="16.4"/><circle cx="1461.2" cy="361.5" r="16.4"/><circle cx="1469.0" cy="367.5" r="16.4"/><circle cx="1476.8" cy="374.1" r="16.4"/><circle cx="1484.7" cy="381.2" r="16.4"/><circle cx="1492.5" cy="389.0" r="16.4"/><circle cx="1500.3" cy="397.8" r="16.4"/><circle cx="1508.1" cy="407.6" r="16.4"/><circle cx="1515.9" cy="418.0" r="16.4"/><circle cx="1523.7" cy="428.8" r="16.4"/><circle cx="1531.6" cy="440.0" r="16.4"/><circle cx="1539.4" cy="451.1" r="16.4"/><circle cx="1547.2" cy="462.3" r="16.4"/><circle cx="1555.0" cy="474.0" r="16.4"/><circle cx="1562.8" cy="487.0" r="16.4"/><circle cx="1570.6" cy="501.8" r="16.4"/><circle cx="1578.5" cy="519.2" r="16.4"/><circle cx="1586.3" cy="539.9" r="16.4"/><circle cx="1594.1" cy="564.5" r="16.4"/><circle cx="1601.9" cy="593.0" r="16.4"/><circle cx="1609.7" cy="624.5" r="16.4"/><circle cx="1617.5" cy="661.1" r="16.4"/><circle cx="1625.4" cy="701.9" r="16.4"/><circle cx="1633.2" cy="745.9" r="16.4"/><circle cx="1641.0" cy="795.4" r="16.4"/><circle cx="1648.8" cy="851.7" r="16.4"/><circle cx="1656.6" cy="913.6" r="16.4"/><circle cx="1664.4" cy="983.6" r="16.4"/><circle cx="1672.3" cy="1060.9" r="16.4"/><circle cx="1680.1" cy="1148.8" r="16.4"/><circle cx="1687.9" cy="1246.0" r="16.4"/><circle cx="1695.7" cy="1353.1" r="16.4"/><circle cx="1703.5" cy="1475.1" r="16.4"/><circle cx="1711.3" cy="1610.2" r="16.4"/><circle cx="1719.2" cy="1761.1" r="16.4"/></g>
<polyline points="234.0,238.7 241.8,238.8 249.6,239.0 257.4,239.0 265.3,239.1 273.1,239.2 280.9,239.3 288.7,239.4 296.5,239.5 304.3,239.6 312.2,239.7 320.0,239.8 327.8,239.8 335.6,239.9 343.4,240.0 351.2,240.1 359.1,240.2 366.9,240.3 374.7,240.4 382.5,240.5 390.3,240.6 398.1,240.7 406.0,240.8 413.8,240.9 421.6,241.0 429.4,241.1 437.2,241.2 445.0,241.3 452.9,241.4 460.7,241.4 468.5,241.5 476.3,241.6 484.1,241.7 491.9,241.8 499.8,241.9 507.6,242.0 515.4,242.1 523.2,242.2 531.0,242.3 538.8,242.4 546.7,242.5 554.5,242.6 562.3,242.7 570.1,242.8 577.9,243.0 585.7,243.1 593.6,243.2 601.4,243.3 609.2,243.4 617.0,243.5 624.8,243.6 632.6,243.7 640.5,243.8 648.3,243.9 656.1,244.0 663.9,244.1 671.7,244.2 679.5,244.3 687.4,244.4 695.2,244.5 703.0,244.6 710.8,244.8 718.6,244.9 726.4,245.0 734.3,245.1 742.1,245.2 749.9,245.3 757.7,245.4 765.5,245.5 773.3,245.6 781.2,245.7 789.0,245.8 796.8,246.0 804.6,246.1 812.4,246.2 820.2,246.3 828.1,246.4 835.9,246.5 843.7,246.6 851.5,246.7 859.3,246.9 867.1,247.0 875.0,247.1 882.8,247.2 890.6,247.3 898.4,247.4 906.2,247.5 914.0,247.7 921.9,247.8 929.7,247.9 937.5,248.0 945.3,248.1 953.1,248.2 960.9,248.4 968.8,248.5 976.6,248.6 984.4,248.7 992.2,248.8 1000.0,248.9 1007.8,249.0 1015.7,249.1 1023.5,249.2 1031.3,249.4 1039.1,249.5 1046.9,249.6 1054.7,249.7 1062.6,249.8 1070.4,249.9 1078.2,250.1 1086.0,250.2 1093.8,250.3 1101.6,250.4 1109.5,250.6 1117.3,250.7 1125.1,250.8 1132.9,251.0 1140.7,251.1 1148.5,251.3 1156.4,251.4 1164.2,251.6 1172.0,251.7 1179.8,251.9 1187.6,252.0 1195.4,252.2 1203.3,252.3 1211.1,252.5 1218.9,252.7 1226.7,252.8 1234.5,253.0 1242.3,253.1 1250.2,253.3 1258.0,253.5 1265.8,253.6 1273.6,253.8 1281.4,254.0 1289.2,254.1 1297.1,254.3 1304.9,254.5 1312.7,254.7 1320.5,254.8 1328.3,255.0 1336.1,255.2 1344.0,255.4 1351.8,255.6 1359.6,255.8 1367.4,256.0 1375.2,256.2 1383.0,256.5 1390.9,256.7 1398.7,256.9 1406.5,257.2 1414.3,257.5 1422.1,257.8 1429.9,258.1 1437.8,258.4 1445.6,258.8 1453.4,259.1 1461.2,259.6 1469.0,260.0 1476.8,260.5 1484.7,261.0 1492.5,261.6 1500.3,262.3 1508.1,263.0 1515.9,263.8 1523.7,264.7 1531.6,265.7 1539.4,266.8 1547.2,268.1 1555.0,269.5 1562.8,271.1 1570.6,273.1 1578.5,275.6 1586.3,278.3 1594.1,281.2 1601.9,284.0 1609.7,286.3 1617.5,290.5 1625.4,295.7 1633.2,301.5 1641.0,308.2 1648.8,315.7 1656.6,323.4 1664.4,331.2 1672.3,339.9 1680.1,350.1 1687.9,362.1 1695.7,376.2 1703.5,392.5 1711.3,411.6 1719.2,435.8 1727.0,459.9 1734.8,488.4 1742.6,522.4 1750.4,561.4 1758.2,605.4 1766.1,656.1 1773.9,713.7 1781.7,780.5 1789.5,856.7 1797.3,944.6 1805.1,1045.5 1813.0,1161.8 1820.8,1298.0 1828.6,1453.4 1836.4,1629.9 1844.2,1832.7" fill="none" stroke="#B177DE" stroke-width="11.5" stroke-linejoin="round"/>
<g fill="#B177DE"><circle cx="234.0" cy="238.7" r="16.4"/><circle cx="241.8" cy="238.8" r="16.4"/><circle cx="249.6" cy="239.0" r="16.4"/><circle cx="257.4" cy="239.0" r="16.4"/><circle cx="265.3" cy="239.1" r="16.4"/><circle cx="273.1" cy="239.2" r="16.4"/><circle cx="280.9" cy="239.3" r="16.4"/><circle cx="288.7" cy="239.4" r="16.4"/><circle cx="296.5" cy="239.5" r="16.4"/><circle cx="304.3" cy="239.6" r="16.4"/><circle cx="312.2" cy="239.7" r="16.4"/><circle cx="320.0" cy="239.8" r="16.4"/><circle cx="327.8" cy="239.8" r="16.4"/><circle cx="335.6" cy="239.9" r="16.4"/><circle cx="343.4" cy="240.0" r="16.4"/><circle cx="351.2" cy="240.1" r="16.4"/><circle cx="359.1" cy="240.2" r="16.4"/><circle cx="366.9" cy="240.3" r="16.4"/><circle cx="374.7" cy="240.4" r="16.4"/><circle cx="382.5" cy="240.5" r="16.4"/><circle cx="390.3" cy="240.6" r="16.4"/><circle cx="398.1" cy="240.7" r="16.4"/><circle cx="406.0" cy="240.8" r="16.4"/><circle cx="413.8" cy="240.9" r="16.4"/><circle cx="421.6" cy="241.0" r="16.4"/><circle cx="429.4" cy="241.1" r="16.4"/><circle cx="437.2" cy="241.2" r="16.4"/><circle cx="445.0" cy="241.3" r="16.4"/><circle cx="452.9" cy="241.4" r="16.4"/><circle cx="460.7" cy="241.4" r="16.4"/><circle cx="468.5" cy="241.5" r="16.4"/><circle cx="476.3" cy="241.6" r="16.4"/><circle cx="484.1" cy="241.7" r="16.4"/><circle cx="491.9" cy="241.8" r="16.4"/><circle cx="499.8" cy="241.9" r="16.4"/><circle cx="507.6" cy="242.0" r="16.4"/><circle cx="515.4" cy="242.1" r="16.4"/><circle cx="523.2" cy="242.2" r="16.4"/><circle cx="531.0" cy="242.3" r="16.4"/><circle cx="538.8" cy="242.4" r="16.4"/><circle cx="546.7" cy="242.5" r="16.4"/><circle cx="554.5" cy="242.6" r="16.4"/><circle cx="562.3" cy="242.7" r="16.4"/><circle cx="570.1" cy="242.8" r="16.4"/><circle cx="577.9" cy="243.0" r="16.4"/><circle cx="585.7" cy="243.1" r="16.4"/><circle cx="593.6" cy="243.2" r="16.4"/><circle cx="601.4" cy="243.3" r="16.4"/><circle cx="609.2" cy="243.4" r="16.4"/><circle cx="617.0" cy="243.5" r="16.4"/><circle cx="624.8" cy="243.6" r="16.4"/><circle cx="632.6" cy="243.7" r="16.4"/><circle cx="640.5" cy="243.8" r="16.4"/><circle cx="648.3" cy="243.9" r="16.4"/><circle cx="656.1" cy="244.0" r="16.4"/><circle cx="663.9" cy="244.1" r="16.4"/><circle cx="671.7" cy="244.2" r="16.4"/><circle cx="679.5" cy="244.3" r="16.4"/><circle cx="687.4" cy="244.4" r="16.4"/><circle cx="695.2" cy="244.5" r="16.4"/><circle cx="703.0" cy="244.6" r="16.4"/><circle cx="710.8" cy="244.8" r="16.4"/><circle cx="718.6" cy="244.9" r="16.4"/><circle cx="726.4" cy="245.0" r="16.4"/><circle cx="734.3" cy="245.1" r="16.4"/><circle cx="742.1" cy="245.2" r="16.4"/><circle cx="749.9" cy="245.3" r="16.4"/><circle cx="757.7" cy="245.4" r="16.4"/><circle cx="765.5" cy="245.5" r="16.4"/><circle cx="773.3" cy="245.6" r="16.4"/><circle cx="781.2" cy="245.7" r="16.4"/><circle cx="789.0" cy="245.8" r="16.4"/><circle cx="796.8" cy="246.0" r="16.4"/><circle cx="804.6" cy="246.1" r="16.4"/><circle cx="812.4" cy="246.2" r="16.4"/><circle cx="820.2" cy="246.3" r="16.4"/><circle cx="828.1" cy="246.4" r="16.4"/><circle cx="835.9" cy="246.5" r="16.4"/><circle cx="843.7" cy="246.6" r="16.4"/><circle cx="851.5" cy="246.7" r="16.4"/><circle cx="859.3" cy="246.9" r="16.4"/><circle cx="867.1" cy="247.0" r="16.4"/><circle cx="875.0" cy="247.1" r="16.4"/><circle cx="882.8" cy="247.2" r="16.4"/><circle cx="890.6" cy="247.3" r="16.4"/><circle cx="898.4" cy="247.4" r="16.4"/><circle cx="906.2" cy="247.5" r="16.4"/><circle cx="914.0" cy="247.7" r="16.4"/><circle cx="921.9" cy="247.8" r="16.4"/><circle cx="929.7" cy="247.9" r="16.4"/><circle cx="937.5" cy="248.0" r="16.4"/><circle cx="945.3" cy="248.1" r="16.4"/><circle cx="953.1" cy="248.2" r="16.4"/><circle cx="960.9" cy="248.4" r="16.4"/><circle cx="968.8" cy="248.5" r="16.4"/><circle cx="976.6" cy="248.6" r="16.4"/><circle cx="984.4" cy="248.7" r="16.4"/><circle cx="992.2" cy="248.8" r="16.4"/><circle cx="1000.0" cy="248.9" r="16.4"/><circle cx="1007.8" cy="249.0" r="16.4"/><circle cx="1015.7" cy="249.1" r="16.4"/><circle cx="1023.5" cy="249.2" r="16.4"/><circle cx="1031.3" cy="249.4" r="16.4"/><circle cx="1039.1" cy="249.5" r="16.4"/><circle cx="1046.9" cy="249.6" r="16.4"/><circle cx="1054.7" cy="249.7" r="16.4"/><circle cx="1062.6" cy="249.8" r="16.4"/><circle cx="1070.4" cy="249.9" r="16.4"/><circle cx="1078.2" cy="250.1" r="16.4"/><circle cx="1086.0" cy="250.2" r="16.4"/><circle cx="1093.8" cy="250.3" r="16.4"/><circle cx="1101.6" cy="250.4" r="16.4"/><circle cx="1109.5" cy="250.6" r="16.4"/><circle cx="1117.3" cy="250.7" r="16.4"/><circle cx="1125.1" cy="250.8" r="16.4"/><circle cx="1132.9" cy="251.0" r="16.4"/><circle cx="1140.7" cy="251.1" r="16.4"/><circle cx="1148.5" cy="251.3" r="16.4"/><circle cx="1156.4" cy="251.4" r="16.4"/><circle cx="1164.2" cy="251.6" r="16.4"/><circle cx="1172.0" cy="251.7" r="16.4"/><circle cx="1179.8" cy="251.9" r="16.4"/><circle cx="1187.6" cy="252.0" r="16.4"/><circle cx="1195.4" cy="252.2" r="16.4"/><circle cx="1203.3" cy="252.3" r="16.4"/><circle cx="1211.1" cy="252.5" r="16.4"/><circle cx="1218.9" cy="252.7" r="16.4"/><circle cx="1226.7" cy="252.8" r="16.4"/><circle cx="1234.5" cy="253.0" r="16.4"/><circle cx="1242.3" cy="253.1" r="16.4"/><circle cx="1250.2" cy="253.3" r="16.4"/><circle cx="1258.0" cy="253.5" r="16.4"/><circle cx="1265.8" cy="253.6" r="16.4"/><circle cx="1273.6" cy="253.8" r="16.4"/><circle cx="1281.4" cy="254.0" r="16.4"/><circle cx="1289.2" cy="254.1" r="16.4"/><circle cx="1297.1" cy="254.3" r="16.4"/><circle cx="1304.9" cy="254.5" r="16.4"/><circle cx="1312.7" cy="254.7" r="16.4"/><circle cx="1320.5" cy="254.8" r="16.4"/><circle cx="1328.3" cy="255.0" r="16.4"/><circle cx="1336.1" cy="255.2" r="16.4"/><circle cx="1344.0" cy="255.4" r="16.4"/><circle cx="1351.8" cy="255.6" r="16.4"/><circle cx="1359.6" cy="255.8" r="16.4"/><circle cx="1367.4" cy="256.0" r="16.4"/><circle cx="1375.2" cy="256.2" r="16.4"/><circle cx="1383.0" cy="256.5" r="16.4"/><circle cx="1390.9" cy="256.7" r="16.4"/><circle cx="1398.7" cy="256.9" r="16.4"/><circle cx="1406.5" cy="257.2" r="16.4"/><circle cx="1414.3" cy="257.5" r="16.4"/><circle cx="1422.1" cy="257.8" r="16.4"/><circle cx="1429.9" cy="258.1" r="16.4"/><circle cx="1437.8" cy="258.4" r="16.4"/><circle cx="1445.6" cy="258.8" r="16.4"/><circle cx="1453.4" cy="259.1" r="16.4"/><circle cx="1461.2" cy="259.6" r="16.4"/><circle cx="1469.0" cy="260.0" r="16.4"/><circle cx="1476.8" cy="260.5" r="16.4"/><circle cx="1484.7" cy="261.0" r="16.4"/><circle cx="1492.5" cy="261.6" r="16.4"/><circle cx="1500.3" cy="262.3" r="16.4"/><circle cx="1508.1" cy="263.0" r="16.4"/><circle cx="1515.9" cy="263.8" r="16.4"/><circle cx="1523.7" cy="264.7" r="16.4"/><circle cx="1531.6" cy="265.7" r="16.4"/><circle cx="1539.4" cy="266.8" r="16.4"/><circle cx="1547.2" cy="268.1" r="16.4"/><circle cx="1555.0" cy="269.5" r="16.4"/><circle cx="1562.8" cy="271.1" r="16.4"/><circle cx="1570.6" cy="273.1" r="16.4"/><circle cx="1578.5" cy="275.6" r="16.4"/><circle cx="1586.3" cy="278.3" r="16.4"/><circle cx="1594.1" cy="281.2" r="16.4"/><circle cx="1601.9" cy="284.0" r="16.4"/><circle cx="1609.7" cy="286.3" r="16.4"/><circle cx="1617.5" cy="290.5" r="16.4"/><circle cx="1625.4" cy="295.7" r="16.4"/><circle cx="1633.2" cy="301.5" r="16.4"/><circle cx="1641.0" cy="308.2" r="16.4"/><circle cx="1648.8" cy="315.7" r="16.4"/><circle cx="1656.6" cy="323.4" r="16.4"/><circle cx="1664.4" cy="331.2" r="16.4"/><circle cx="1672.3" cy="339.9" r="16.4"/><circle cx="1680.1" cy="350.1" r="16.4"/><circle cx="1687.9" cy="362.1" r="16.4"/><circle cx="1695.7" cy="376.2" r="16.4"/><circle cx="1703.5" cy="392.5" r="16.4"/><circle cx="1711.3" cy="411.6" r="16.4"/><circle cx="1719.2" cy="435.8" r="16.4"/><circle cx="1727.0" cy="459.9" r="16.4"/><circle cx="1734.8" cy="488.4" r="16.4"/><circle cx="1742.6" cy="522.4" r="16.4"/><circle cx="1750.4" cy="561.4" r="16.4"/><circle cx="1758.2" cy="605.4" r="16.4"/><circle cx="1766.1" cy="656.1" r="16.4"/><circle cx="1773.9" cy="713.7" r="16.4"/><circle cx="1781.7" cy="780.5" r="16.4"/><circle cx="1789.5" cy="856.7" r="16.4"/><circle cx="1797.3" cy="944.6" r="16.4"/><circle cx="1805.1" cy="1045.5" r="16.4"/><circle cx="1813.0" cy="1161.8" r="16.4"/><circle cx="1820.8" cy="1298.0" r="16.4"/><circle cx="1828.6" cy="1453.4" r="16.4"/><circle cx="1836.4" cy="1629.9" r="16.4"/><circle cx="1844.2" cy="1832.7" r="16.4"/></g>
<polyline points="234.0,137.7 241.8,137.9 249.6,138.0 257.4,138.1 265.3,138.1 273.1,138.2 280.9,138.2 288.7,138.3 296.5,138.3 304.3,138.4 312.2,138.4 320.0,138.5 327.8,138.5 335.6,138.6 343.4,138.6 351.2,138.7 359.1,138.7 366.9,138.8 374.7,138.8 382.5,138.9 390.3,138.9 398.1,139.0 406.0,139.0 413.8,139.1 421.6,139.1 429.4,139.2 437.2,139.3 445.0,139.3 452.9,139.4 460.7,139.4 468.5,139.5 476.3,139.5 484.1,139.6 491.9,139.7 499.8,139.7 507.6,139.8 515.4,139.8 523.2,139.9 531.0,139.9 538.8,140.0 546.7,140.1 554.5,140.1 562.3,140.2 570.1,140.2 577.9,140.3 585.7,140.4 593.6,140.4 601.4,140.5 609.2,140.6 617.0,140.6 624.8,140.7 632.6,140.7 640.5,140.8 648.3,140.9 656.1,140.9 663.9,141.0 671.7,141.1 679.5,141.1 687.4,141.2 695.2,141.3 703.0,141.3 710.8,141.4 718.6,141.5 726.4,141.5 734.3,141.6 742.1,141.7 749.9,141.8 757.7,141.8 765.5,141.9 773.3,142.0 781.2,142.0 789.0,142.1 796.8,142.2 804.6,142.2 812.4,142.3 820.2,142.4 828.1,142.5 835.9,142.5 843.7,142.6 851.5,142.7 859.3,142.7 867.1,142.8 875.0,142.9 882.8,143.0 890.6,143.0 898.4,143.1 906.2,143.2 914.0,143.2 921.9,143.3 929.7,143.4 937.5,143.5 945.3,143.5 953.1,143.6 960.9,143.7 968.8,143.7 976.6,143.8 984.4,143.9 992.2,143.9 1000.0,144.0 1007.8,144.1 1015.7,144.2 1023.5,144.2 1031.3,144.3 1039.1,144.4 1046.9,144.4 1054.7,144.5 1062.6,144.6 1070.4,144.6 1078.2,144.7 1086.0,144.8 1093.8,144.9 1101.6,144.9 1109.5,145.0 1117.3,145.1 1125.1,145.2 1132.9,145.2 1140.7,145.3 1148.5,145.4 1156.4,145.5 1164.2,145.6 1172.0,145.7 1179.8,145.7 1187.6,145.8 1195.4,145.9 1203.3,146.0 1211.1,146.0 1218.9,146.1 1226.7,146.2 1234.5,146.3 1242.3,146.4 1250.2,146.5 1258.0,146.6 1265.8,146.7 1273.6,146.8 1281.4,146.9 1289.2,147.1 1297.1,147.2 1304.9,147.4 1312.7,147.5 1320.5,147.7 1328.3,147.9 1336.1,148.1 1344.0,148.2 1351.8,148.4 1359.6,148.6 1367.4,148.8 1375.2,148.9 1383.0,149.1 1390.9,149.3 1398.7,149.5 1406.5,149.7 1414.3,149.9 1422.1,150.1 1429.9,150.3 1437.8,150.5 1445.6,150.7 1453.4,150.9 1461.2,151.1 1469.0,151.3 1476.8,151.5 1484.7,151.8 1492.5,152.0 1500.3,152.3 1508.1,152.5 1515.9,152.8 1523.7,153.1 1531.6,153.4 1539.4,153.7 1547.2,154.1 1555.0,154.4 1562.8,154.8 1570.6,155.3 1578.5,155.9 1586.3,156.6 1594.1,157.4 1601.9,158.2 1609.7,159.2 1617.5,160.2 1625.4,161.4 1633.2,162.7 1641.0,164.1 1648.8,165.7 1656.6,167.4 1664.4,169.4 1672.3,171.6 1680.1,174.0 1687.9,176.8 1695.7,180.7 1703.5,185.3 1711.3,189.8 1719.2,195.8 1727.0,203.8 1734.8,211.2 1742.6,221.3 1750.4,232.8 1758.2,246.7 1766.1,261.3 1773.9,280.6 1781.7,301.4 1789.5,326.0 1797.3,356.1 1805.1,394.6 1813.0,438.9 1820.8,489.8 1828.6,550.3 1836.4,620.8 1844.2,707.8 1852.0,808.2 1859.9,930.6 1867.7,1075.7 1875.5,1250.0 1883.3,1457.3 1891.1,1699.3 1898.9,1985.6" fill="none" stroke="#FF8000" stroke-width="11.5" stroke-linejoin="round"/>
<g fill="#FF8000"><circle cx="234.0" cy="137.7" r="16.4"/><circle cx="241.8" cy="137.9" r="16.4"/><circle cx="249.6" cy="138.0" r="16.4"/><circle cx="257.4" cy="138.1" r="16.4"/><circle cx="265.3" cy="138.1" r="16.4"/><circle cx="273.1" cy="138.2" r="16.4"/><circle cx="280.9" cy="138.2" r="16.4"/><circle cx="288.7" cy="138.3" r="16.4"/><circle cx="296.5" cy="138.3" r="16.4"/><circle cx="304.3" cy="138.4" r="16.4"/><circle cx="312.2" cy="138.4" r="16.4"/><circle cx="320.0" cy="138.5" r="16.4"/><circle cx="327.8" cy="138.5" r="16.4"/><circle cx="335.6" cy="138.6" r="16.4"/><circle cx="343.4" cy="138.6" r="16.4"/><circle cx="351.2" cy="138.7" r="16.4"/><circle cx="359.1" cy="138.7" r="16.4"/><circle cx="366.9" cy="138.8" r="16.4"/><circle cx="374.7" cy="138.8" r="16.4"/><circle cx="382.5" cy="138.9" r="16.4"/><circle cx="390.3" cy="138.9" r="16.4"/><circle cx="398.1" cy="139.0" r="16.4"/><circle cx="406.0" cy="139.0" r="16.4"/><circle cx="413.8" cy="139.1" r="16.4"/><circle cx="421.6" cy="139.1" r="16.4"/><circle cx="429.4" cy="139.2" r="16.4"/><circle cx="437.2" cy="139.3" r="16.4"/><circle cx="445.0" cy="139.3" r="16.4"/><circle cx="452.9" cy="139.4" r="16.4"/><circle cx="460.7" cy="139.4" r="16.4"/><circle cx="468.5" cy="139.5" r="16.4"/><circle cx="476.3" cy="139.5" r="16.4"/><circle cx="484.1" cy="139.6" r="16.4"/><circle cx="491.9" cy="139.7" r="16.4"/><circle cx="499.8" cy="139.7" r="16.4"/><circle cx="507.6" cy="139.8" r="16.4"/><circle cx="515.4" cy="139.8" r="16.4"/><circle cx="523.2" cy="139.9" r="16.4"/><circle cx="531.0" cy="139.9" r="16.4"/><circle cx="538.8" cy="140.0" r="16.4"/><circle cx="546.7" cy="140.1" r="16.4"/><circle cx="554.5" cy="140.1" r="16.4"/><circle cx="562.3" cy="140.2" r="16.4"/><circle cx="570.1" cy="140.2" r="16.4"/><circle cx="577.9" cy="140.3" r="16.4"/><circle cx="585.7" cy="140.4" r="16.4"/><circle cx="593.6" cy="140.4" r="16.4"/><circle cx="601.4" cy="140.5" r="16.4"/><circle cx="609.2" cy="140.6" r="16.4"/><circle cx="617.0" cy="140.6" r="16.4"/><circle cx="624.8" cy="140.7" r="16.4"/><circle cx="632.6" cy="140.7" r="16.4"/><circle cx="640.5" cy="140.8" r="16.4"/><circle cx="648.3" cy="140.9" r="16.4"/><circle cx="656.1" cy="140.9" r="16.4"/><circle cx="663.9" cy="141.0" r="16.4"/><circle cx="671.7" cy="141.1" r="16.4"/><circle cx="679.5" cy="141.1" r="16.4"/><circle cx="687.4" cy="141.2" r="16.4"/><circle cx="695.2" cy="141.3" r="16.4"/><circle cx="703.0" cy="141.3" r="16.4"/><circle cx="710.8" cy="141.4" r="16.4"/><circle cx="718.6" cy="141.5" r="16.4"/><circle cx="726.4" cy="141.5" r="16.4"/><circle cx="734.3" cy="141.6" r="16.4"/><circle cx="742.1" cy="141.7" r="16.4"/><circle cx="749.9" cy="141.8" r="16.4"/><circle cx="757.7" cy="141.8" r="16.4"/><circle cx="765.5" cy="141.9" r="16.4"/><circle cx="773.3" cy="142.0" r="16.4"/><circle cx="781.2" cy="142.0" r="16.4"/><circle cx="789.0" cy="142.1" r="16.4"/><circle cx="796.8" cy="142.2" r="16.4"/><circle cx="804.6" cy="142.2" r="16.4"/><circle cx="812.4" cy="142.3" r="16.4"/><circle cx="820.2" cy="142.4" r="16.4"/><circle cx="828.1" cy="142.5" r="16.4"/><circle cx="835.9" cy="142.5" r="16.4"/><circle cx="843.7" cy="142.6" r="16.4"/><circle cx="851.5" cy="142.7" r="16.4"/><circle cx="859.3" cy="142.7" r="16.4"/><circle cx="867.1" cy="142.8" r="16.4"/><circle cx="875.0" cy="142.9" r="16.4"/><circle cx="882.8" cy="143.0" r="16.4"/><circle cx="890.6" cy="143.0" r="16.4"/><circle cx="898.4" cy="143.1" r="16.4"/><circle cx="906.2" cy="143.2" r="16.4"/><circle cx="914.0" cy="143.2" r="16.4"/><circle cx="921.9" cy="143.3" r="16.4"/><circle cx="929.7" cy="143.4" r="16.4"/><circle cx="937.5" cy="143.5" r="16.4"/><circle cx="945.3" cy="143.5" r="16.4"/><circle cx="953.1" cy="143.6" r="16.4"/><circle cx="960.9" cy="143.7" r="16.4"/><circle cx="968.8" cy="143.7" r="16.4"/><circle cx="976.6" cy="143.8" r="16.4"/><circle cx="984.4" cy="143.9" r="16.4"/><circle cx="992.2" cy="143.9" r="16.4"/><circle cx="1000.0" cy="144.0" r="16.4"/><circle cx="1007.8" cy="144.1" r="16.4"/><circle cx="1015.7" cy="144.2" r="16.4"/><circle cx="1023.5" cy="144.2" r="16.4"/><circle cx="1031.3" cy="144.3" r="16.4"/><circle cx="1039.1" cy="144.4" r="16.4"/><circle cx="1046.9" cy="144.4" r="16.4"/><circle cx="1054.7" cy="144.5" r="16.4"/><circle cx="1062.6" cy="144.6" r="16.4"/><circle cx="1070.4" cy="144.6" r="16.4"/><circle cx="1078.2" cy="144.7" r="16.4"/><circle cx="1086.0" cy="144.8" r="16.4"/><circle cx="1093.8" cy="144.9" r="16.4"/><circle cx="1101.6" cy="144.9" r="16.4"/><circle cx="1109.5" cy="145.0" r="16.4"/><circle cx="1117.3" cy="145.1" r="16.4"/><circle cx="1125.1" cy="145.2" r="16.4"/><circle cx="1132.9" cy="145.2" r="16.4"/><circle cx="1140.7" cy="145.3" r="16.4"/><circle cx="1148.5" cy="145.4" r="16.4"/><circle cx="1156.4" cy="145.5" r="16.4"/><circle cx="1164.2" cy="145.6" r="16.4"/><circle cx="1172.0" cy="145.7" r="16.4"/><circle cx="1179.8" cy="145.7" r="16.4"/><circle cx="1187.6" cy="145.8" r="16.4"/><circle cx="1195.4" cy="145.9" r="16.4"/><circle cx="1203.3" cy="146.0" r="16.4"/><circle cx="1211.1" cy="146.0" r="16.4"/><circle cx="1218.9" cy="146.1" r="16.4"/><circle cx="1226.7" cy="146.2" r="16.4"/><circle cx="1234.5" cy="146.3" r="16.4"/><circle cx="1242.3" cy="146.4" r="16.4"/><circle cx="1250.2" cy="146.5" r="16.4"/><circle cx="1258.0" cy="146.6" r="16.4"/><circle cx="1265.8" cy="146.7" r="16.4"/><circle cx="1273.6" cy="146.8" r="16.4"/><circle cx="1281.4" cy="146.9" r="16.4"/><circle cx="1289.2" cy="147.1" r="16.4"/><circle cx="1297.1" cy="147.2" r="16.4"/><circle cx="1304.9" cy="147.4" r="16.4"/><circle cx="1312.7" cy="147.5" r="16.4"/><circle cx="1320.5" cy="147.7" r="16.4"/><circle cx="1328.3" cy="147.9" r="16.4"/><circle cx="1336.1" cy="148.1" r="16.4"/><circle cx="1344.0" cy="148.2" r="16.4"/><circle cx="1351.8" cy="148.4" r="16.4"/><circle cx="1359.6" cy="148.6" r="16.4"/><circle cx="1367.4" cy="148.8" r="16.4"/><circle cx="1375.2" cy="148.9" r="16.4"/><circle cx="1383.0" cy="149.1" r="16.4"/><circle cx="1390.9" cy="149.3" r="16.4"/><circle cx="1398.7" cy="149.5" r="16.4"/><circle cx="1406.5" cy="149.7" r="16.4"/><circle cx="1414.3" cy="149.9" r="16.4"/><circle cx="1422.1" cy="150.1" r="16.4"/><circle cx="1429.9" cy="150.3" r="16.4"/><circle cx="1437.8" cy="150.5" r="16.4"/><circle cx="1445.6" cy="150.7" r="16.4"/><circle cx="1453.4" cy="150.9" r="16.4"/><circle cx="1461.2" cy="151.1" r="16.4"/><circle cx="1469.0" cy="151.3" r="16.4"/><circle cx="1476.8" cy="151.5" r="16.4"/><circle cx="1484.7" cy="151.8" r="16.4"/><circle cx="1492.5" cy="152.0" r="16.4"/><circle cx="1500.3" cy="152.3" r="16.4"/><circle cx="1508.1" cy="152.5" r="16.4"/><circle cx="1515.9" cy="152.8" r="16.4"/><circle cx="1523.7" cy="153.1" r="16.4"/><circle cx="1531.6" cy="153.4" r="16.4"/><circle cx="1539.4" cy="153.7" r="16.4"/><circle cx="1547.2" cy="154.1" r="16.4"/><circle cx="1555.0" cy="154.4" r="16.4"/><circle cx="1562.8" cy="154.8" r="16.4"/><circle cx="1570.6" cy="155.3" r="16.4"/><circle cx="1578.5" cy="155.9" r="16.4"/><circle cx="1586.3" cy="156.6" r="16.4"/><circle cx="1594.1" cy="157.4" r="16.4"/><circle cx="1601.9" cy="158.2" r="16.4"/><circle cx="1609.7" cy="159.2" r="16.4"/><circle cx="1617.5" cy="160.2" r="16.4"/><circle cx="1625.4" cy="161.4" r="16.4"/><circle cx="1633.2" cy="162.7" r="16.4"/><circle cx="1641.0" cy="164.1" r="16.4"/><circle cx="1648.8" cy="165.7" r="16.4"/><circle cx="1656.6" cy="167.4" r="16.4"/><circle cx="1664.4" cy="169.4" r="16.4"/><circle cx="1672.3" cy="171.6" r="16.4"/><circle cx="1680.1" cy="174.0" r="16.4"/><circle cx="1687.9" cy="176.8" r="16.4"/><circle cx="1695.7" cy="180.7" r="16.4"/><circle cx="1703.5" cy="185.3" r="16.4"/><circle cx="1711.3" cy="189.8" r="16.4"/><circle cx="1719.2" cy="195.8" r="16.4"/><circle cx="1727.0" cy="203.8" r="16.4"/><circle cx="1734.8" cy="211.2" r="16.4"/><circle cx="1742.6" cy="221.3" r="16.4"/><circle cx="1750.4" cy="232.8" r="16.4"/><circle cx="1758.2" cy="246.7" r="16.4"/><circle cx="1766.1" cy="261.3" r="16.4"/><circle cx="1773.9" cy="280.6" r="16.4"/><circle cx="1781.7" cy="301.4" r="16.4"/><circle cx="1789.5" cy="326.0" r="16.4"/><circle cx="1797.3" cy="356.1" r="16.4"/><circle cx="1805.1" cy="394.6" r="16.4"/><circle cx="1813.0" cy="438.9" r="16.4"/><circle cx="1820.8" cy="489.8" r="16.4"/><circle cx="1828.6" cy="550.3" r="16.4"/><circle cx="1836.4" cy="620.8" r="16.4"/><circle cx="1844.2" cy="707.8" r="16.4"/><circle cx="1852.0" cy="808.2" r="16.4"/><circle cx="1859.9" cy="930.6" r="16.4"/><circle cx="1867.7" cy="1075.7" r="16.4"/><circle cx="1875.5" cy="1250.0" r="16.4"/><circle cx="1883.3" cy="1457.3" r="16.4"/><circle cx="1891.1" cy="1699.3" r="16.4"/><circle cx="1898.9" cy="1985.6" r="16.4"/></g>
<g fill="#FF0080"><polygon points="234.0,110.2 256.1,126.3 247.6,152.2 220.4,152.2 211.9,126.3"/><polygon points="241.8,110.4 263.9,126.4 255.5,152.4 228.2,152.4 219.8,126.4"/><polygon points="249.6,110.5 271.7,126.5 263.3,152.5 236.0,152.5 227.6,126.5"/><polygon points="257.4,110.5 279.5,126.6 271.1,152.5 243.8,152.5 235.4,126.6"/><polygon points="265.3,110.6 287.3,126.6 278.9,152.6 251.6,152.6 243.2,126.6"/><polygon points="273.1,110.6 295.1,126.7 286.7,152.6 259.4,152.6 251.0,126.7"/><polygon points="280.9,110.7 303.0,126.7 294.5,152.7 267.3,152.7 258.8,126.7"/><polygon points="288.7,110.7 310.8,126.8 302.4,152.7 275.1,152.7 266.7,126.8"/><polygon points="296.5,110.8 318.6,126.8 310.2,152.8 282.9,152.8 274.5,126.8"/><polygon points="304.3,110.8 326.4,126.9 318.0,152.8 290.7,152.8 282.3,126.9"/><polygon points="312.2,110.9 334.2,126.9 325.8,152.9 298.5,152.9 290.1,126.9"/><polygon points="320.0,110.9 342.0,127.0 333.6,152.9 306.3,152.9 297.9,127.0"/><polygon points="327.8,111.0 349.9,127.0 341.4,153.0 314.2,153.0 305.7,127.0"/><polygon points="335.6,111.0 357.7,127.1 349.3,153.0 322.0,153.0 313.6,127.1"/><polygon points="343.4,111.1 365.5,127.1 357.1,153.1 329.8,153.1 321.4,127.1"/><polygon points="351.2,111.1 373.3,127.2 364.9,153.1 337.6,153.1 329.2,127.2"/><polygon points="359.1,111.2 381.1,127.2 372.7,153.2 345.4,153.2 337.0,127.2"/><polygon points="366.9,111.2 388.9,127.3 380.5,153.2 353.2,153.2 344.8,127.3"/><polygon points="374.7,111.3 396.8,127.3 388.3,153.3 361.1,153.3 352.6,127.3"/><polygon points="382.5,111.4 404.6,127.4 396.2,153.3 368.9,153.3 360.5,127.4"/><polygon points="390.3,111.4 412.4,127.4 404.0,153.4 376.7,153.4 368.3,127.4"/><polygon points="398.1,111.5 420.2,127.5 411.8,153.4 384.5,153.4 376.1,127.5"/><polygon points="406.0,111.5 428.0,127.5 419.6,153.5 392.3,153.5 383.9,127.5"/><polygon points="413.8,111.6 435.8,127.6 427.4,153.5 400.1,153.5 391.7,127.6"/><polygon points="421.6,111.6 443.7,127.7 435.2,153.6 408.0,153.6 399.5,127.7"/><polygon points="429.4,111.7 451.5,127.7 443.1,153.6 415.8,153.6 407.4,127.7"/><polygon points="437.2,111.7 459.3,127.8 450.9,153.7 423.6,153.7 415.2,127.8"/><polygon points="445.0,111.8 467.1,127.8 458.7,153.8 431.4,153.8 423.0,127.8"/><polygon points="452.9,111.8 474.9,127.9 466.5,153.8 439.2,153.8 430.8,127.9"/><polygon points="460.7,111.9 482.7,127.9 474.3,153.9 447.0,153.9 438.6,127.9"/><polygon points="468.5,112.0 490.6,128.0 482.1,153.9 454.9,153.9 446.4,128.0"/><polygon points="476.3,112.0 498.4,128.0 490.0,154.0 462.7,154.0 454.3,128.0"/><polygon points="484.1,112.1 506.2,128.1 497.8,154.0 470.5,154.0 462.1,128.1"/><polygon points="491.9,112.1 514.0,128.2 505.6,154.1 478.3,154.1 469.9,128.2"/><polygon points="499.8,112.2 521.8,128.2 513.4,154.2 486.1,154.2 477.7,128.2"/><polygon points="507.6,112.2 529.6,128.3 521.2,154.2 493.9,154.2 485.5,128.3"/><polygon points="515.4,112.3 537.5,128.3 529.0,154.3 501.8,154.3 493.3,128.3"/><polygon points="523.2,112.4 545.3,128.4 536.9,154.3 509.6,154.3 501.2,128.4"/><polygon points="531.0,112.4 553.1,128.5 544.7,154.4 517.4,154.4 509.0,128.5"/><polygon points="538.8,112.5 560.9,128.5 552.5,154.4 525.2,154.4 516.8,128.5"/><polygon points="546.7,112.5 568.7,128.6 560.3,154.5 533.0,154.5 524.6,128.6"/><polygon points="554.5,112.6 576.5,128.6 568.1,154.6 540.8,154.6 532.4,128.6"/><polygon points="562.3,112.7 584.4,128.7 575.9,154.6 548.7,154.6 540.2,128.7"/><polygon points="570.1,112.7 592.2,128.8 583.8,154.7 556.5,154.7 548.1,128.8"/><polygon points="577.9,112.8 600.0,128.8 591.6,154.8 564.3,154.8 555.9,128.8"/><polygon points="585.7,112.8 607.8,128.9 599.4,154.8 572.1,154.8 563.7,128.9"/><polygon points="593.6,112.9 615.6,128.9 607.2,154.9 579.9,154.9 571.5,128.9"/><polygon points="601.4,113.0 623.4,129.0 615.0,154.9 587.7,154.9 579.3,129.0"/><polygon points="609.2,113.0 631.3,129.1 622.8,155.0 595.6,155.0 587.1,129.1"/><polygon points="617.0,113.1 639.1,129.1 630.7,155.1 603.4,155.1 595.0,129.1"/><polygon points="624.8,113.2 646.9,129.2 638.5,155.1 611.2,155.1 602.8,129.2"/><polygon points="632.6,113.2 654.7,129.3 646.3,155.2 619.0,155.2 610.6,129.3"/><polygon points="640.5,113.3 662.5,129.3 654.1,155.3 626.8,155.3 618.4,129.3"/><polygon points="648.3,113.4 670.3,129.4 661.9,155.3 634.6,155.3 626.2,129.4"/><polygon points="656.1,113.4 678.2,129.4 669.7,155.4 642.5,155.4 634.0,129.4"/><polygon points="663.9,113.5 686.0,129.5 677.6,155.5 650.3,155.5 641.9,129.5"/><polygon points="671.7,113.5 693.8,129.6 685.4,155.5 658.1,155.5 649.7,129.6"/><polygon points="679.5,113.6 701.6,129.6 693.2,155.6 665.9,155.6 657.5,129.6"/><polygon points="687.4,113.7 709.4,129.7 701.0,155.7 673.7,155.7 665.3,129.7"/><polygon points="695.2,113.7 717.2,129.8 708.8,155.7 681.5,155.7 673.1,129.8"/><polygon points="703.0,113.8 725.1,129.8 716.6,155.8 689.4,155.8 680.9,129.8"/><polygon points="710.8,113.9 732.9,129.9 724.5,155.9 697.2,155.9 688.8,129.9"/><polygon points="718.6,114.0 740.7,130.0 732.3,155.9 705.0,155.9 696.6,130.0"/><polygon points="726.4,114.0 748.5,130.1 740.1,156.0 712.8,156.0 704.4,130.1"/><polygon points="734.3,114.1 756.3,130.1 747.9,156.1 720.6,156.1 712.2,130.1"/><polygon points="742.1,114.2 764.1,130.2 755.7,156.1 728.4,156.1 720.0,130.2"/><polygon points="749.9,114.2 772.0,130.3 763.5,156.2 736.3,156.2 727.8,130.3"/><polygon points="757.7,114.3 779.8,130.3 771.4,156.3 744.1,156.3 735.7,130.3"/><polygon points="765.5,114.4 787.6,130.4 779.2,156.3 751.9,156.3 743.5,130.4"/><polygon points="773.3,114.4 795.4,130.5 787.0,156.4 759.7,156.4 751.3,130.5"/><polygon points="781.2,114.5 803.2,130.5 794.8,156.5 767.5,156.5 759.1,130.5"/><polygon points="789.0,114.6 811.0,130.6 802.6,156.6 775.3,156.6 766.9,130.6"/><polygon points="796.8,114.7 818.9,130.7 810.4,156.6 783.2,156.6 774.7,130.7"/><polygon points="804.6,114.7 826.7,130.8 818.3,156.7 791.0,156.7 782.6,130.8"/><polygon points="812.4,114.8 834.5,130.8 826.1,156.8 798.8,156.8 790.4,130.8"/><polygon points="820.2,114.9 842.3,130.9 833.9,156.8 806.6,156.8 798.2,130.9"/><polygon points="828.1,114.9 850.1,131.0 841.7,156.9 814.4,156.9 806.0,131.0"/><polygon points="835.9,115.0 857.9,131.0 849.5,157.0 822.2,157.0 813.8,131.0"/><polygon points="843.7,115.1 865.8,131.1 857.3,157.0 830.1,157.0 821.6,131.1"/><polygon points="851.5,115.2 873.6,131.2 865.2,157.1 837.9,157.1 829.5,131.2"/><polygon points="859.3,115.2 881.4,131.3 873.0,157.2 845.7,157.2 837.3,131.3"/><polygon points="867.1,115.3 889.2,131.3 880.8,157.3 853.5,157.3 845.1,131.3"/><polygon points="875.0,115.4 897.0,131.4 888.6,157.3 861.3,157.3 852.9,131.4"/><polygon points="882.8,115.4 904.8,131.5 896.4,157.4 869.1,157.4 860.7,131.5"/><polygon points="890.6,115.5 912.7,131.5 904.2,157.5 877.0,157.5 868.5,131.5"/><polygon points="898.4,115.6 920.5,131.6 912.1,157.5 884.8,157.5 876.4,131.6"/><polygon points="906.2,115.7 928.3,131.7 919.9,157.6 892.6,157.6 884.2,131.7"/><polygon points="914.0,115.7 936.1,131.8 927.7,157.7 900.4,157.7 892.0,131.8"/><polygon points="921.9,115.8 943.9,131.8 935.5,157.8 908.2,157.8 899.8,131.8"/><polygon points="929.7,115.9 951.7,131.9 943.3,157.8 916.0,157.8 907.6,131.9"/><polygon points="937.5,115.9 959.6,132.0 951.1,157.9 923.9,157.9 915.4,132.0"/><polygon points="945.3,116.0 967.4,132.0 959.0,158.0 931.7,158.0 923.3,132.0"/><polygon points="953.1,116.1 975.2,132.1 966.8,158.0 939.5,158.0 931.1,132.1"/><polygon points="960.9,116.1 983.0,132.2 974.6,158.1 947.3,158.1 938.9,132.2"/><polygon points="968.8,116.2 990.8,132.3 982.4,158.2 955.1,158.2 946.7,132.3"/><polygon points="976.6,116.3 998.6,132.3 990.2,158.3 962.9,158.3 954.5,132.3"/><polygon points="984.4,116.4 1006.5,132.4 998.0,158.3 970.8,158.3 962.3,132.4"/><polygon points="992.2,116.4 1014.3,132.5 1005.9,158.4 978.6,158.4 970.2,132.5"/><polygon points="1000.0,116.5 1022.1,132.5 1013.7,158.5 986.4,158.5 978.0,132.5"/><polygon points="1007.8,116.6 1029.9,132.6 1021.5,158.5 994.2,158.5 985.8,132.6"/><polygon points="1015.7,116.6 1037.7,132.7 1029.3,158.6 1002.0,158.6 993.6,132.7"/><polygon points="1023.5,116.7 1045.5,132.7 1037.1,158.7 1009.8,158.7 1001.4,132.7"/><polygon points="1031.3,116.8 1053.4,132.8 1044.9,158.7 1017.7,158.7 1009.2,132.8"/><polygon points="1039.1,116.8 1061.2,132.9 1052.8,158.8 1025.5,158.8 1017.1,132.9"/><polygon points="1046.9,116.9 1069.0,132.9 1060.6,158.9 1033.3,158.9 1024.9,132.9"/><polygon points="1054.7,117.0 1076.8,133.0 1068.4,158.9 1041.1,158.9 1032.7,133.0"/><polygon points="1062.6,117.0 1084.6,133.1 1076.2,159.0 1048.9,159.0 1040.5,133.1"/><polygon points="1070.4,117.1 1092.4,133.1 1084.0,159.1 1056.7,159.1 1048.3,133.1"/><polygon points="1078.2,117.2 1100.3,133.2 1091.8,159.2 1064.6,159.2 1056.1,133.2"/><polygon points="1086.0,117.3 1108.1,133.3 1099.7,159.2 1072.4,159.2 1064.0,133.3"/><polygon points="1093.8,117.3 1115.9,133.4 1107.5,159.3 1080.2,159.3 1071.8,133.4"/><polygon points="1101.6,117.4 1123.7,133.4 1115.3,159.4 1088.0,159.4 1079.6,133.4"/><polygon points="1109.5,117.5 1131.5,133.5 1123.1,159.5 1095.8,159.5 1087.4,133.5"/><polygon points="1117.3,117.6 1139.3,133.6 1130.9,159.5 1103.6,159.5 1095.2,133.6"/><polygon points="1125.1,117.6 1147.2,133.7 1138.7,159.6 1111.5,159.6 1103.0,133.7"/><polygon points="1132.9,117.7 1155.0,133.8 1146.6,159.7 1119.3,159.7 1110.9,133.8"/><polygon points="1140.7,117.8 1162.8,133.8 1154.4,159.8 1127.1,159.8 1118.7,133.8"/><polygon points="1148.5,117.9 1170.6,133.9 1162.2,159.9 1134.9,159.9 1126.5,133.9"/><polygon points="1156.4,118.0 1178.4,134.0 1170.0,159.9 1142.7,159.9 1134.3,134.0"/><polygon points="1164.2,118.1 1186.2,134.1 1177.8,160.0 1150.5,160.0 1142.1,134.1"/><polygon points="1172.0,118.1 1194.1,134.2 1185.6,160.1 1158.4,160.1 1149.9,134.2"/><polygon points="1179.8,118.2 1201.9,134.2 1193.5,160.2 1166.2,160.2 1157.8,134.2"/><polygon points="1187.6,118.3 1209.7,134.3 1201.3,160.3 1174.0,160.3 1165.6,134.3"/><polygon points="1195.4,118.4 1217.5,134.4 1209.1,160.3 1181.8,160.3 1173.4,134.4"/><polygon points="1203.3,118.4 1225.3,134.5 1216.9,160.4 1189.6,160.4 1181.2,134.5"/><polygon points="1211.1,118.5 1233.1,134.5 1224.7,160.5 1197.4,160.5 1189.0,134.5"/><polygon points="1218.9,118.6 1241.0,134.6 1232.5,160.6 1205.3,160.6 1196.8,134.6"/><polygon points="1226.7,118.7 1248.8,134.7 1240.4,160.6 1213.1,160.6 1204.7,134.7"/><polygon points="1234.5,118.8 1256.6,134.8 1248.2,160.7 1220.9,160.7 1212.5,134.8"/><polygon points="1242.3,118.8 1264.4,134.9 1256.0,160.8 1228.7,160.8 1220.3,134.9"/><polygon points="1250.2,118.9 1272.2,135.0 1263.8,160.9 1236.5,160.9 1228.1,135.0"/><polygon points="1258.0,119.0 1280.0,135.1 1271.6,161.0 1244.3,161.0 1235.9,135.1"/><polygon points="1265.8,119.2 1287.9,135.2 1279.4,161.1 1252.2,161.1 1243.7,135.2"/><polygon points="1273.6,119.3 1295.7,135.3 1287.3,161.2 1260.0,161.2 1251.5,135.3"/><polygon points="1281.4,119.4 1303.5,135.4 1295.1,161.4 1267.8,161.4 1259.4,135.4"/><polygon points="1289.2,119.5 1311.3,135.6 1302.9,161.5 1275.6,161.5 1267.2,135.6"/><polygon points="1297.1,119.7 1319.1,135.7 1310.7,161.7 1283.4,161.7 1275.0,135.7"/><polygon points="1304.9,119.9 1326.9,135.9 1318.5,161.8 1291.2,161.8 1282.8,135.9"/><polygon points="1312.7,120.0 1334.8,136.1 1326.3,162.0 1299.1,162.0 1290.6,136.1"/><polygon points="1320.5,120.2 1342.6,136.2 1334.2,162.2 1306.9,162.2 1298.4,136.2"/><polygon points="1328.3,120.4 1350.4,136.4 1342.0,162.3 1314.7,162.3 1306.3,136.4"/><polygon points="1336.1,120.5 1358.2,136.6 1349.8,162.5 1322.5,162.5 1314.1,136.6"/><polygon points="1344.0,120.7 1366.0,136.7 1357.6,162.7 1330.3,162.7 1321.9,136.7"/><polygon points="1351.8,120.9 1373.8,136.9 1365.4,162.9 1338.1,162.9 1329.7,136.9"/><polygon points="1359.6,121.1 1381.7,137.1 1373.2,163.0 1346.0,163.0 1337.5,137.1"/><polygon points="1367.4,121.2 1389.5,137.3 1381.1,163.2 1353.8,163.2 1345.3,137.3"/><polygon points="1375.2,121.4 1397.3,137.5 1388.9,163.4 1361.6,163.4 1353.2,137.5"/><polygon points="1383.0,121.6 1405.1,137.6 1396.7,163.6 1369.4,163.6 1361.0,137.6"/><polygon points="1390.9,121.8 1412.9,137.8 1404.5,163.8 1377.2,163.8 1368.8,137.8"/><polygon points="1398.7,122.0 1420.7,138.0 1412.3,164.0 1385.0,164.0 1376.6,138.0"/><polygon points="1406.5,122.2 1428.6,138.2 1420.1,164.1 1392.9,164.1 1384.4,138.2"/><polygon points="1414.3,122.4 1436.4,138.4 1428.0,164.3 1400.7,164.3 1392.2,138.4"/><polygon points="1422.1,122.6 1444.2,138.6 1435.8,164.5 1408.5,164.5 1400.1,138.6"/><polygon points="1429.9,122.8 1452.0,138.8 1443.6,164.7 1416.3,164.7 1407.9,138.8"/><polygon points="1437.8,123.0 1459.8,139.0 1451.4,164.9 1424.1,164.9 1415.7,139.0"/><polygon points="1445.6,123.2 1467.6,139.2 1459.2,165.1 1431.9,165.1 1423.5,139.2"/><polygon points="1453.4,123.4 1475.5,139.4 1467.0,165.4 1439.8,165.4 1431.3,139.4"/><polygon points="1461.2,123.6 1483.3,139.6 1474.9,165.6 1447.6,165.6 1439.1,139.6"/><polygon points="1469.0,123.8 1491.1,139.9 1482.7,165.8 1455.4,165.8 1447.0,139.9"/><polygon points="1476.8,124.0 1498.9,140.1 1490.5,166.0 1463.2,166.0 1454.8,140.1"/><polygon points="1484.7,124.3 1506.7,140.3 1498.3,166.3 1471.0,166.3 1462.6,140.3"/><polygon points="1492.5,124.5 1514.5,140.6 1506.1,166.5 1478.8,166.5 1470.4,140.6"/><polygon points="1500.3,124.8 1522.4,140.8 1513.9,166.7 1486.7,166.7 1478.2,140.8"/><polygon points="1508.1,125.0 1530.2,141.1 1521.8,167.0 1494.5,167.0 1486.0,141.1"/><polygon points="1515.9,125.3 1538.0,141.3 1529.6,167.3 1502.3,167.3 1493.9,141.3"/><polygon points="1523.7,125.6 1545.8,141.6 1537.4,167.6 1510.1,167.6 1501.7,141.6"/><polygon points="1531.6,125.9 1553.6,141.9 1545.2,167.9 1517.9,167.9 1509.5,141.9"/><polygon points="1539.4,126.2 1561.4,142.3 1553.0,168.2 1525.7,168.2 1517.3,142.3"/><polygon points="1547.2,126.6 1569.3,142.6 1560.8,168.5 1533.6,168.5 1525.1,142.6"/><polygon points="1555.0,126.9 1577.1,143.0 1568.7,168.9 1541.4,168.9 1532.9,143.0"/><polygon points="1562.8,127.3 1584.9,143.4 1576.5,169.3 1549.2,169.3 1540.8,143.4"/><polygon points="1570.6,127.9 1592.7,143.9 1584.3,169.8 1557.0,169.8 1548.6,143.9"/><polygon points="1578.5,128.5 1600.5,144.5 1592.1,170.4 1564.8,170.4 1556.4,144.5"/><polygon points="1586.3,129.2 1608.3,145.2 1599.9,171.2 1572.6,171.2 1564.2,145.2"/><polygon points="1594.1,130.0 1616.2,146.1 1607.7,172.0 1580.5,172.0 1572.0,146.1"/><polygon points="1601.9,131.0 1624.0,147.0 1615.6,172.9 1588.3,172.9 1579.8,147.0"/><polygon points="1609.7,132.0 1631.8,148.0 1623.4,174.0 1596.1,174.0 1587.7,148.0"/><polygon points="1617.5,133.2 1639.6,149.2 1631.2,175.1 1603.9,175.1 1595.5,149.2"/><polygon points="1625.4,134.4 1647.4,150.5 1639.0,176.4 1611.7,176.4 1603.3,150.5"/><polygon points="1633.2,135.8 1655.2,151.9 1646.8,177.8 1619.5,177.8 1611.1,151.9"/><polygon points="1641.0,137.4 1663.1,153.4 1654.6,179.4 1627.4,179.4 1618.9,153.4"/><polygon points="1648.8,139.1 1670.9,155.1 1662.5,181.1 1635.2,181.1 1626.7,155.1"/><polygon points="1656.6,141.0 1678.7,157.0 1670.3,183.0 1643.0,183.0 1634.6,157.0"/><polygon points="1664.4,143.1 1686.5,159.2 1678.1,185.1 1650.8,185.1 1642.4,159.2"/><polygon points="1672.3,145.5 1694.3,161.6 1685.9,187.5 1658.6,187.5 1650.2,161.6"/><polygon points="1680.1,148.2 1702.1,164.3 1693.7,190.2 1666.4,190.2 1658.0,164.3"/><polygon points="1687.9,151.3 1710.0,167.4 1701.5,193.3 1674.3,193.3 1665.8,167.4"/><polygon points="1695.7,155.7 1717.8,171.7 1709.4,197.6 1682.1,197.6 1673.6,171.7"/><polygon points="1703.5,160.6 1725.6,176.6 1717.2,202.6 1689.9,202.6 1681.5,176.6"/><polygon points="1711.3,165.6 1733.4,181.6 1725.0,207.5 1697.7,207.5 1689.3,181.6"/><polygon points="1719.2,172.4 1741.2,188.4 1732.8,214.3 1705.5,214.3 1697.1,188.4"/><polygon points="1727.0,181.0 1749.0,197.1 1740.6,223.0 1713.3,223.0 1704.9,197.1"/><polygon points="1734.8,189.1 1756.9,205.1 1748.4,231.1 1721.2,231.1 1712.7,205.1"/><polygon points="1742.6,199.6 1764.7,215.6 1756.3,241.6 1729.0,241.6 1720.5,215.6"/><polygon points="1750.4,211.4 1772.5,227.4 1764.1,253.3 1736.8,253.3 1728.4,227.4"/><polygon points="1758.2,225.6 1780.3,241.6 1771.9,267.6 1744.6,267.6 1736.2,241.6"/><polygon points="1766.1,240.5 1788.1,256.5 1779.7,282.4 1752.4,282.4 1744.0,256.5"/><polygon points="1773.9,260.3 1795.9,276.3 1787.5,302.2 1760.2,302.2 1751.8,276.3"/><polygon points="1781.7,281.3 1803.8,297.4 1795.3,323.3 1768.1,323.3 1759.6,297.4"/><polygon points="1789.5,306.7 1811.6,322.7 1803.1,348.7 1775.9,348.7 1767.4,322.7"/><polygon points="1797.3,337.7 1819.4,353.7 1811.0,379.6 1783.7,379.6 1775.3,353.7"/><polygon points="1805.1,377.3 1827.2,393.3 1818.8,419.2 1791.5,419.2 1783.1,393.3"/><polygon points="1813.0,422.5 1835.0,438.5 1826.6,464.4 1799.3,464.4 1790.9,438.5"/><polygon points="1820.8,474.5 1842.8,490.5 1834.4,516.4 1807.1,516.4 1798.7,490.5"/><polygon points="1828.6,536.4 1850.7,552.4 1842.2,578.3 1815.0,578.3 1806.5,552.4"/><polygon points="1836.4,608.8 1858.5,624.8 1850.0,650.7 1822.8,650.7 1814.3,624.8"/><polygon points="1844.2,697.9 1866.3,713.9 1857.9,739.9 1830.6,739.9 1822.2,713.9"/><polygon points="1852.0,800.7 1874.1,816.7 1865.7,842.6 1838.4,842.6 1830.0,816.7"/><polygon points="1859.9,926.3 1881.9,942.4 1873.5,968.3 1846.2,968.3 1837.8,942.4"/><polygon points="1867.7,1074.9 1889.7,1090.9 1881.3,1116.9 1854.0,1116.9 1845.6,1090.9"/><polygon points="1875.5,1253.8 1897.6,1269.8 1889.1,1295.7 1861.9,1295.7 1853.4,1269.8"/><polygon points="1883.3,1466.1 1905.4,1482.1 1896.9,1508.1 1869.7,1508.1 1861.2,1482.1"/><polygon points="1891.1,1713.3 1913.2,1729.3 1904.8,1755.2 1877.5,1755.2 1869.1,1729.3"/></g>
</g>
<g stroke="#000" stroke-width="5.6" fill="none" shape-rendering="crispEdges">
<line x1="234.0" y1="56.6" x2="234.0" y2="1547.8"/>
<line x1="231.2" y1="1545.0" x2="2112.8" y2="1545.0"/>
<line x1="206.0" y1="1545.0" x2="234.0" y2="1545.0"/>
<line x1="206.0" y1="1421.2" x2="234.0" y2="1421.2"/>
<line x1="206.0" y1="1297.4" x2="234.0" y2="1297.4"/>
<line x1="206.0" y1="1173.6" x2="234.0" y2="1173.6"/>
<line x1="206.0" y1="1049.8" x2="234.0" y2="1049.8"/>
<line x1="206.0" y1="926.0" x2="234.0" y2="926.0"/>
<line x1="206.0" y1="802.2" x2="234.0" y2="802.2"/>
<line x1="206.0" y1="678.4" x2="234.0" y2="678.4"/>
<line x1="206.0" y1="554.6" x2="234.0" y2="554.6"/>
<line x1="206.0" y1="430.8" x2="234.0" y2="430.8"/>
<line x1="206.0" y1="307.0" x2="234.0" y2="307.0"/>
<line x1="206.0" y1="183.2" x2="234.0" y2="183.2"/>
<line x1="206.0" y1="59.4" x2="234.0" y2="59.4"/>
<line x1="234.0" y1="1545.0" x2="234.0" y2="1573.0"/>
<line x1="390.3" y1="1545.0" x2="390.3" y2="1573.0"/>
<line x1="546.7" y1="1545.0" x2="546.7" y2="1573.0"/>
<line x1="703.0" y1="1545.0" x2="703.0" y2="1573.0"/>
<line x1="859.3" y1="1545.0" x2="859.3" y2="1573.0"/>
<line x1="1015.7" y1="1545.0" x2="1015.7" y2="1573.0"/>
<line x1="1172.0" y1="1545.0" x2="1172.0" y2="1573.0"/>
<line x1="1328.3" y1="1545.0" x2="1328.3" y2="1573.0"/>
<line x1="1484.7" y1="1545.0" x2="1484.7" y2="1573.0"/>
<line x1="1641.0" y1="1545.0" x2="1641.0" y2="1573.0"/>
<line x1="1797.3" y1="1545.0" x2="1797.3" y2="1573.0"/>
<line x1="1953.7" y1="1545.0" x2="1953.7" y2="1573.0"/>
<line x1="2110.0" y1="1545.0" x2="2110.0" y2="1573.0"/>
</g>
<g font-family="'Liberation Sans', Arial, sans-serif" font-weight="bold" font-size="54" fill="#000">
<text transform="translate(187.3,1560.5) scale(1,1.05)" text-anchor="end">0</text>
<text transform="translate(187.3,1436.7) scale(1,1.05)" text-anchor="end">2</text>
<text transform="translate(187.3,1312.9) scale(1,1.05)" text-anchor="end">4</text>
<text transform="translate(187.3,1189.1) scale(1,1.05)" text-anchor="end">6</text>
<text transform="translate(187.3,1065.3) scale(1,1.05)" text-anchor="end">8</text>
<text transform="translate(187.3,941.5) scale(1,1.05)" text-anchor="end">10</text>
<text transform="translate(187.3,817.7) scale(1,1.05)" text-anchor="end">12</text>
<text transform="translate(187.3,693.9) scale(1,1.05)" text-anchor="end">14</text>
<text transform="translate(187.3,570.1) scale(1,1.05)" text-anchor="end">16</text>
<text transform="translate(187.3,446.3) scale(1,1.05)" text-anchor="end">18</text>
<text transform="translate(187.3,322.5) scale(1,1.05)" text-anchor="end">20</text>
<text transform="translate(187.3,198.7) scale(1,1.05)" text-anchor="end">22</text>
<text transform="translate(187.3,74.9) scale(1,1.05)" text-anchor="end">24</text>
<text transform="translate(233.5,1633.3) scale(1,1.05)" text-anchor="middle">0.0</text>
<text transform="translate(389.8,1633.3) scale(1,1.05)" text-anchor="middle">0.1</text>
<text transform="translate(546.2,1633.3) scale(1,1.05)" text-anchor="middle">0.2</text>
<text transform="translate(702.5,1633.3) scale(1,1.05)" text-anchor="middle">0.3</text>
<text transform="translate(858.8,1633.3) scale(1,1.05)" text-anchor="middle">0.4</text>
<text transform="translate(1015.2,1633.3) scale(1,1.05)" text-anchor="middle">0.5</text>
<text transform="translate(1171.5,1633.3) scale(1,1.05)" text-anchor="middle">0.6</text>
<text transform="translate(1327.8,1633.3) scale(1,1.05)" text-anchor="middle">0.7</text>
<text transform="translate(1484.2,1633.3) scale(1,1.05)" text-anchor="middle">0.8</text>
<text transform="translate(1640.5,1633.3) scale(1,1.05)" text-anchor="middle">0.9</text>
<text transform="translate(1796.8,1633.3) scale(1,1.05)" text-anchor="middle">1.0</text>
<text transform="translate(1953.2,1633.3) scale(1,1.05)" text-anchor="middle">1.1</text>
<text transform="translate(2109.5,1633.3) scale(1,1.05)" text-anchor="middle">1.2</text>
</g>
<text font-family="'Liberation Sans', Arial, sans-serif" font-weight="bold" font-size="60.2" transform="translate(1168.0,1735.2) scale(1,1.03)" text-anchor="middle">Voltage / V</text>
<text font-family="'Liberation Sans', Arial, sans-serif" font-weight="bold" font-size="59" transform="translate(100,1174) rotate(-90) scale(1,1.03)" x="0" y="0">Current density / mA&#183;cm <tspan font-weight="normal" font-size="42" dx="-2.3" dy="-20.6">&#8722;</tspan><tspan font-weight="normal" font-size="42" dy="-4.4">2</tspan></text>
<text font-family="'Liberation Sans', Arial, sans-serif" font-weight="bold" font-size="74" x="22" y="81">(a)</text>
<text font-family="'Liberation Sans', Arial, sans-serif" font-weight="bold" font-size="54" transform="translate(1766,155.7) scale(1,1.04)">ETL doping concentration</text>
<line x1="1915.5" y1="234.7" x2="2034.5" y2="234.7" stroke="#515151" stroke-width="11" stroke-linecap="round"/>
<circle cx="1975" cy="234.7" r="16.4" fill="#515151"/>
<text font-family="'Liberation Sans', Arial, sans-serif" font-size="54" transform="translate(2050.2,253.4) scale(1,1.05)">N<tspan font-size="37" dy="14.6">D</tspan><tspan dy="-14.6">=10</tspan><tspan font-size="37" dy="-20.6">14</tspan><tspan dy="20.6"> cm</tspan><tspan font-size="37" dx="-1" dy="-15.9">&#8722;</tspan><tspan font-size="37" dx="-1.5" dy="-4.7">3</tspan></text>
<line x1="1915.5" y1="324.2" x2="2034.5" y2="324.2" stroke="#F14040" stroke-width="11" stroke-linecap="round"/>
<circle cx="1975" cy="324.2" r="16.4" fill="#F14040"/>
<text font-family="'Liberation Sans', Arial, sans-serif" font-size="54" transform="translate(2050.2,342.9) scale(1,1.05)">N<tspan font-size="37" dy="14.6">D</tspan><tspan dy="-14.6">=10</tspan><tspan font-size="37" dy="-20.6">15</tspan><tspan dy="20.6"> cm</tspan><tspan font-size="37" dx="-1" dy="-15.9">&#8722;</tspan><tspan font-size="37" dx="-1.5" dy="-4.7">3</tspan></text>
<line x1="1915.5" y1="413.7" x2="2034.5" y2="413.7" stroke="#1A6FDF" stroke-width="11" stroke-linecap="round"/>
<circle cx="1975" cy="413.7" r="16.4" fill="#1A6FDF"/>
<text font-family="'Liberation Sans', Arial, sans-serif" font-size="54" transform="translate(2050.2,432.4) scale(1,1.05)">N<tspan font-size="37" dy="14.6">D</tspan><tspan dy="-14.6">=10</tspan><tspan font-size="37" dy="-20.6">16</tspan><tspan dy="20.6"> cm</tspan><tspan font-size="37" dx="-1" dy="-15.9">&#8722;</tspan><tspan font-size="37" dx="-1.5" dy="-4.7">3</tspan></text>
<line x1="1915.5" y1="503.2" x2="2034.5" y2="503.2" stroke="#37AD6B" stroke-width="11" stroke-linecap="round"/>
<circle cx="1975" cy="503.2" r="16.4" fill="#37AD6B"/>
<text font-family="'Liberation Sans', Arial, sans-serif" font-size="54" transform="translate(2050.2,521.9) scale(1,1.05)">N<tspan font-size="37" dy="14.6">D</tspan><tspan dy="-14.6">=10</tspan><tspan font-size="37" dy="-20.6">17</tspan><tspan dy="20.6"> cm</tspan><tspan font-size="37" dx="-1" dy="-15.9">&#8722;</tspan><tspan font-size="37" dx="-1.5" dy="-4.7">3</tspan></text>
<line x1="1915.5" y1="592.7" x2="2034.5" y2="592.7" stroke="#B177DE" stroke-width="11" stroke-linecap="round"/>
<circle cx="1975" cy="592.7" r="16.4" fill="#B177DE"/>
<text font-family="'Liberation Sans', Arial, sans-serif" font-size="54" transform="translate(2050.2,611.4) scale(1,1.05)">N<tspan font-size="37" dy="14.6">D</tspan><tspan dy="-14.6">=10</tspan><tspan font-size="37" dy="-20.6">18</tspan><tspan dy="20.6"> cm</tspan><tspan font-size="37" dx="-1" dy="-15.9">&#8722;</tspan><tspan font-size="37" dx="-1.5" dy="-4.7">3</tspan></text>
<line x1="1915.5" y1="682.2" x2="2034.5" y2="682.2" stroke="#FF8000" stroke-width="11" stroke-linecap="round"/>
<circle cx="1975" cy="682.2" r="16.4" fill="#FF8000"/>
<text font-family="'Liberation Sans', Arial, sans-serif" font-size="54" transform="translate(2050.2,700.9) scale(1,1.05)">N<tspan font-size="37" dy="14.6">D</tspan><tspan dy="-14.6">=10</tspan><tspan font-size="37" dy="-20.6">19</tspan><tspan dy="20.6"> cm</tspan><tspan font-size="37" dx="-1" dy="-15.9">&#8722;</tspan><tspan font-size="37" dx="-1.5" dy="-4.7">3</tspan></text>
<polygon points="1975.0,750.8 1996.3,766.3 1988.2,791.3 1961.8,791.3 1953.7,766.3" fill="#FF0080"/>
<text font-family="'Liberation Sans', Arial, sans-serif" font-size="54" transform="translate(2050.2,790.4) scale(1,1.05)">N<tspan font-size="37" dy="14.6">D</tspan><tspan dy="-14.6">=10</tspan><tspan font-size="37" dy="-20.6">20</tspan><tspan dy="20.6"> cm</tspan><tspan font-size="37" dx="-1" dy="-15.9">&#8722;</tspan><tspan font-size="37" dx="-1.5" dy="-4.7">3</tspan></text>
<g stroke="#000" stroke-width="1.3" shape-rendering="crispEdges">
<rect x="414.8" y="1206.9" width="103.6" height="188.4" fill="#000000"/>
<rect x="545.2" y="1164.3" width="103.6" height="231.0" fill="#FF0000"/>
<rect x="675.7" y="1089.2" width="103.6" height="306.1" fill="#0000FF"/>
<rect x="806.2" y="1039.4" width="103.6" height="355.9" fill="#008C00"/>
<rect x="936.6" y="901.5" width="103.6" height="493.8" fill="#FF00FF"/>
<rect x="1067.0" y="770.5" width="103.6" height="624.8" fill="#FF8000"/>
<rect x="1197.5" y="769.3" width="103.6" height="626.0" fill="#FF0080"/>
</g>
<g stroke="#000" stroke-width="1.4" fill="none" shape-rendering="crispEdges">
<line x1="398.6" y1="705.4" x2="398.6" y2="1395.3"/>
<line x1="387.1" y1="1395.3" x2="1312.2" y2="1395.3"/>
<line x1="387.1" y1="1395.3" x2="398.6" y2="1395.3"/>
<line x1="387.1" y1="1346.0" x2="398.6" y2="1346.0"/>
<line x1="387.1" y1="1296.7" x2="398.6" y2="1296.7"/>
<line x1="387.1" y1="1247.5" x2="398.6" y2="1247.5"/>
<line x1="387.1" y1="1198.2" x2="398.6" y2="1198.2"/>
<line x1="387.1" y1="1148.9" x2="398.6" y2="1148.9"/>
<line x1="387.1" y1="1099.6" x2="398.6" y2="1099.6"/>
<line x1="387.1" y1="1050.3" x2="398.6" y2="1050.3"/>
<line x1="387.1" y1="1001.1" x2="398.6" y2="1001.1"/>
<line x1="387.1" y1="951.8" x2="398.6" y2="951.8"/>
<line x1="387.1" y1="902.5" x2="398.6" y2="902.5"/>
<line x1="387.1" y1="853.2" x2="398.6" y2="853.2"/>
<line x1="387.1" y1="803.9" x2="398.6" y2="803.9"/>
<line x1="387.1" y1="754.7" x2="398.6" y2="754.7"/>
<line x1="387.1" y1="705.4" x2="398.6" y2="705.4"/>
<line x1="466.6" y1="1395.3" x2="466.6" y2="1407.3"/>
<line x1="597.0" y1="1395.3" x2="597.0" y2="1407.3"/>
<line x1="727.5" y1="1395.3" x2="727.5" y2="1407.3"/>
<line x1="858.0" y1="1395.3" x2="858.0" y2="1407.3"/>
<line x1="988.4" y1="1395.3" x2="988.4" y2="1407.3"/>
<line x1="1118.8" y1="1395.3" x2="1118.8" y2="1407.3"/>
<line x1="1249.3" y1="1395.3" x2="1249.3" y2="1407.3"/>
</g>
<g font-family="'Liberation Sans', Arial, sans-serif" font-weight="bold" font-size="23.5">
<text x="379" y="1402.5" text-anchor="end">8</text>
<text x="379" y="1353.2" text-anchor="end">9</text>
<text x="379" y="1303.9" text-anchor="end">10</text>
<text x="379" y="1254.7" text-anchor="end">11</text>
<text x="379" y="1205.4" text-anchor="end">12</text>
<text x="379" y="1156.1" text-anchor="end">13</text>
<text x="379" y="1106.8" text-anchor="end">14</text>
<text x="379" y="1057.5" text-anchor="end">15</text>
<text x="379" y="1008.3" text-anchor="end">16</text>
<text x="379" y="959.0" text-anchor="end">17</text>
<text x="379" y="909.7" text-anchor="end">18</text>
<text x="379" y="860.4" text-anchor="end">19</text>
<text x="379" y="811.1" text-anchor="end">20</text>
<text x="379" y="761.9" text-anchor="end">21</text>
<text x="379" y="712.6" text-anchor="end">22</text>
</g>
<g font-family="'Liberation Sans', Arial, sans-serif" font-weight="bold" font-size="25">
<text x="467.6" y="1438.5" text-anchor="middle">10<tspan font-size="18" dy="-8.5">14</tspan></text>
<text x="598.0" y="1438.5" text-anchor="middle">10<tspan font-size="18" dy="-8.5">15</tspan></text>
<text x="728.5" y="1438.5" text-anchor="middle">10<tspan font-size="18" dy="-8.5">16</tspan></text>
<text x="859.0" y="1438.5" text-anchor="middle">10<tspan font-size="18" dy="-8.5">17</tspan></text>
<text x="989.4" y="1438.5" text-anchor="middle">10<tspan font-size="18" dy="-8.5">18</tspan></text>
<text x="1119.8" y="1438.5" text-anchor="middle">10<tspan font-size="18" dy="-8.5">19</tspan></text>
<text x="1250.3" y="1438.5" text-anchor="middle">10<tspan font-size="18" dy="-8.5">20</tspan></text>
</g>
<g font-family="'Liberation Sans', Arial, sans-serif" font-size="32.5">
<text x="466.6" y="1201.1" text-anchor="middle">11.8</text>
<text x="597.0" y="1158.5" text-anchor="middle">12.7</text>
<text x="727.5" y="1083.4" text-anchor="middle">14.2</text>
<text x="858.0" y="1033.6" text-anchor="middle">15.2</text>
<text x="988.4" y="895.7" text-anchor="middle">18</text>
<text x="1118.8" y="764.7" text-anchor="middle">20.7</text>
<text x="1249.3" y="763.5" text-anchor="middle">20.7</text>
</g>
<text font-family="'Liberation Sans', Arial, sans-serif" font-weight="bold" font-size="28.3" x="609" y="1487.7">ETL doping concentration / mA&#183;cm<tspan font-weight="normal" font-size="19" dy="-12"> &#8722;2</tspan></text>
<text font-family="'Liberation Sans', Arial, sans-serif" font-weight="bold" font-size="28" transform="translate(340.3,1102.5) rotate(-90)">PCE / %</text>
<text font-family="'Liberation Sans', Arial, sans-serif" font-weight="bold" font-size="72.5" x="248.5" y="758">(b)</text>
</svg>
</body></html>
